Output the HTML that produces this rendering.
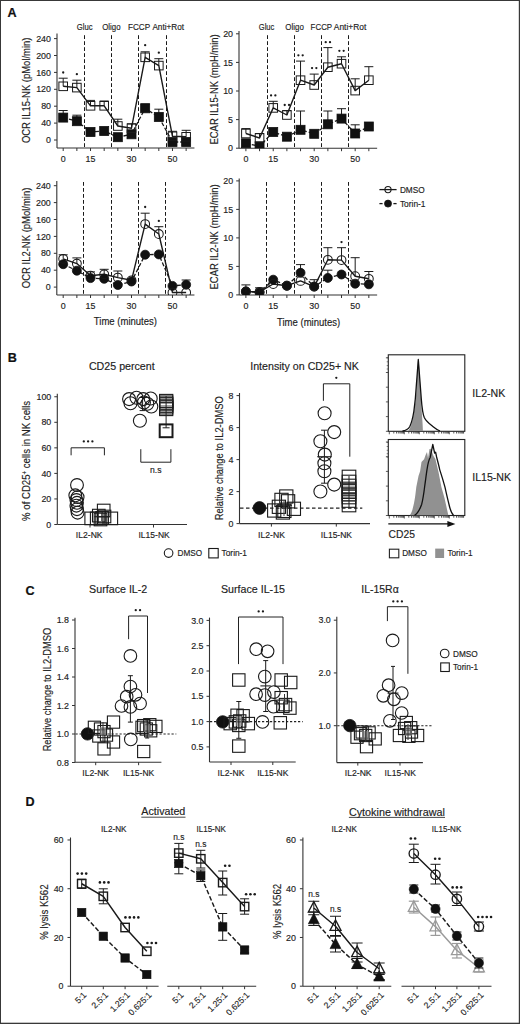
<!DOCTYPE html><html><head><meta charset="utf-8"><title>Figure</title><style>html,body{margin:0;padding:0;background:#fff;}svg{display:block;}text{font-family:"Liberation Sans", sans-serif;}</style></head><body>
<svg width="520" height="1024" viewBox="0 0 520 1024">
<rect x="0" y="0" width="520" height="1024" fill="#fff"/>
<text x="0" y="0" transform="translate(7.6 17.2)" font-size="12.6" text-anchor="start" font-weight="bold" fill="#111" stroke="#111" stroke-width="0.2">A</text>
<line x1="57" y1="33.5" x2="57" y2="148" stroke="#333" stroke-width="1.1" stroke-linecap="butt"/>
<line x1="54" y1="140" x2="57" y2="140" stroke="#333" stroke-width="1" stroke-linecap="butt"/>
<text x="0" y="0" transform="translate(51 143.19)" font-size="8.9" text-anchor="end" font-weight="normal" fill="#222" stroke="#222" stroke-width="0.15">0</text>
<line x1="54" y1="123.1" x2="57" y2="123.1" stroke="#333" stroke-width="1" stroke-linecap="butt"/>
<text x="0" y="0" transform="translate(51 126.29)" font-size="8.9" text-anchor="end" font-weight="normal" fill="#222" stroke="#222" stroke-width="0.15">40</text>
<line x1="54" y1="106.2" x2="57" y2="106.2" stroke="#333" stroke-width="1" stroke-linecap="butt"/>
<text x="0" y="0" transform="translate(51 109.39)" font-size="8.9" text-anchor="end" font-weight="normal" fill="#222" stroke="#222" stroke-width="0.15">80</text>
<line x1="54" y1="89.3" x2="57" y2="89.3" stroke="#333" stroke-width="1" stroke-linecap="butt"/>
<text x="0" y="0" transform="translate(51 92.49)" font-size="8.9" text-anchor="end" font-weight="normal" fill="#222" stroke="#222" stroke-width="0.15">120</text>
<line x1="54" y1="72.4" x2="57" y2="72.4" stroke="#333" stroke-width="1" stroke-linecap="butt"/>
<text x="0" y="0" transform="translate(51 75.59)" font-size="8.9" text-anchor="end" font-weight="normal" fill="#222" stroke="#222" stroke-width="0.15">160</text>
<line x1="54" y1="55.5" x2="57" y2="55.5" stroke="#333" stroke-width="1" stroke-linecap="butt"/>
<text x="0" y="0" transform="translate(51 58.69)" font-size="8.9" text-anchor="end" font-weight="normal" fill="#222" stroke="#222" stroke-width="0.15">200</text>
<line x1="54" y1="38.6" x2="57" y2="38.6" stroke="#333" stroke-width="1" stroke-linecap="butt"/>
<text x="0" y="0" transform="translate(51 41.79)" font-size="8.9" text-anchor="end" font-weight="normal" fill="#222" stroke="#222" stroke-width="0.15">240</text>
<line x1="57" y1="148" x2="194.44" y2="148" stroke="#333" stroke-width="1.1" stroke-linecap="butt"/>
<line x1="63.2" y1="148" x2="63.2" y2="151" stroke="#333" stroke-width="1" stroke-linecap="butt"/>
<line x1="76.86" y1="148" x2="76.86" y2="151" stroke="#333" stroke-width="1" stroke-linecap="butt"/>
<line x1="90.52" y1="148" x2="90.52" y2="151" stroke="#333" stroke-width="1" stroke-linecap="butt"/>
<line x1="104.18" y1="148" x2="104.18" y2="151" stroke="#333" stroke-width="1" stroke-linecap="butt"/>
<line x1="117.84" y1="148" x2="117.84" y2="151" stroke="#333" stroke-width="1" stroke-linecap="butt"/>
<line x1="131.5" y1="148" x2="131.5" y2="151" stroke="#333" stroke-width="1" stroke-linecap="butt"/>
<line x1="145.16" y1="148" x2="145.16" y2="151" stroke="#333" stroke-width="1" stroke-linecap="butt"/>
<line x1="158.82" y1="148" x2="158.82" y2="151" stroke="#333" stroke-width="1" stroke-linecap="butt"/>
<line x1="172.48" y1="148" x2="172.48" y2="151" stroke="#333" stroke-width="1" stroke-linecap="butt"/>
<line x1="186.14" y1="148" x2="186.14" y2="151" stroke="#333" stroke-width="1" stroke-linecap="butt"/>
<text x="0" y="0" transform="translate(63.2 161.8)" font-size="8.9" text-anchor="middle" font-weight="normal" fill="#222" stroke="#222" stroke-width="0.15">0</text>
<text x="0" y="0" transform="translate(90.52 161.8)" font-size="8.9" text-anchor="middle" font-weight="normal" fill="#222" stroke="#222" stroke-width="0.15">15</text>
<text x="0" y="0" transform="translate(131.5 161.8)" font-size="8.9" text-anchor="middle" font-weight="normal" fill="#222" stroke="#222" stroke-width="0.15">30</text>
<text x="0" y="0" transform="translate(172.48 161.8)" font-size="8.9" text-anchor="middle" font-weight="normal" fill="#222" stroke="#222" stroke-width="0.15">50</text>
<line x1="84.5" y1="35.2" x2="84.5" y2="148" stroke="#1a1a1a" stroke-width="1" stroke-dasharray="3.8,2.2" stroke-linecap="butt"/>
<line x1="111.5" y1="35.2" x2="111.5" y2="148" stroke="#1a1a1a" stroke-width="1" stroke-dasharray="3.8,2.2" stroke-linecap="butt"/>
<line x1="138.5" y1="35.2" x2="138.5" y2="148" stroke="#1a1a1a" stroke-width="1" stroke-dasharray="3.8,2.2" stroke-linecap="butt"/>
<line x1="166.5" y1="35.2" x2="166.5" y2="148" stroke="#1a1a1a" stroke-width="1" stroke-dasharray="3.8,2.2" stroke-linecap="butt"/>
<text x="0" y="0" transform="translate(76.8 30.3)" font-size="8.8" text-anchor="start" font-weight="normal" fill="#222" stroke="#222" stroke-width="0.15" textLength="15.7" lengthAdjust="spacingAndGlyphs">Gluc</text>
<text x="0" y="0" transform="translate(102.2 30.3)" font-size="8.8" text-anchor="start" font-weight="normal" fill="#222" stroke="#222" stroke-width="0.15" textLength="18.3" lengthAdjust="spacingAndGlyphs">Oligo</text>
<text x="0" y="0" transform="translate(128 30.3)" font-size="8.8" text-anchor="start" font-weight="normal" fill="#222" stroke="#222" stroke-width="0.15" textLength="22.2" lengthAdjust="spacingAndGlyphs">FCCP</text>
<text x="0" y="0" transform="translate(152.4 30.3)" font-size="8.8" text-anchor="start" font-weight="normal" fill="#222" stroke="#222" stroke-width="0.15" textLength="31.6" lengthAdjust="spacingAndGlyphs">Anti+Rot</text>
<text x="0" y="0" transform="translate(30.2 90.3) rotate(-90)" font-size="10.2" text-anchor="middle" font-weight="normal" fill="#222" stroke="#222" stroke-width="0.15" textLength="105.6" lengthAdjust="spacingAndGlyphs">OCR IL15-NK (pMol/min)</text>
<line x1="239" y1="31" x2="239" y2="148.2" stroke="#333" stroke-width="1.1" stroke-linecap="butt"/>
<line x1="236" y1="148.2" x2="239" y2="148.2" stroke="#333" stroke-width="1" stroke-linecap="butt"/>
<text x="0" y="0" transform="translate(233 151.39)" font-size="8.9" text-anchor="end" font-weight="normal" fill="#222" stroke="#222" stroke-width="0.15">0</text>
<line x1="236" y1="119.6" x2="239" y2="119.6" stroke="#333" stroke-width="1" stroke-linecap="butt"/>
<text x="0" y="0" transform="translate(233 122.79)" font-size="8.9" text-anchor="end" font-weight="normal" fill="#222" stroke="#222" stroke-width="0.15">5</text>
<line x1="236" y1="91" x2="239" y2="91" stroke="#333" stroke-width="1" stroke-linecap="butt"/>
<text x="0" y="0" transform="translate(233 94.19)" font-size="8.9" text-anchor="end" font-weight="normal" fill="#222" stroke="#222" stroke-width="0.15">10</text>
<line x1="236" y1="62.4" x2="239" y2="62.4" stroke="#333" stroke-width="1" stroke-linecap="butt"/>
<text x="0" y="0" transform="translate(233 65.59)" font-size="8.9" text-anchor="end" font-weight="normal" fill="#222" stroke="#222" stroke-width="0.15">15</text>
<line x1="236" y1="33.8" x2="239" y2="33.8" stroke="#333" stroke-width="1" stroke-linecap="butt"/>
<text x="0" y="0" transform="translate(233 36.99)" font-size="8.9" text-anchor="end" font-weight="normal" fill="#222" stroke="#222" stroke-width="0.15">20</text>
<line x1="239" y1="148.2" x2="377.14" y2="148.2" stroke="#333" stroke-width="1.1" stroke-linecap="butt"/>
<line x1="245.9" y1="148.2" x2="245.9" y2="151.2" stroke="#333" stroke-width="1" stroke-linecap="butt"/>
<line x1="259.56" y1="148.2" x2="259.56" y2="151.2" stroke="#333" stroke-width="1" stroke-linecap="butt"/>
<line x1="273.22" y1="148.2" x2="273.22" y2="151.2" stroke="#333" stroke-width="1" stroke-linecap="butt"/>
<line x1="286.88" y1="148.2" x2="286.88" y2="151.2" stroke="#333" stroke-width="1" stroke-linecap="butt"/>
<line x1="300.54" y1="148.2" x2="300.54" y2="151.2" stroke="#333" stroke-width="1" stroke-linecap="butt"/>
<line x1="314.2" y1="148.2" x2="314.2" y2="151.2" stroke="#333" stroke-width="1" stroke-linecap="butt"/>
<line x1="327.86" y1="148.2" x2="327.86" y2="151.2" stroke="#333" stroke-width="1" stroke-linecap="butt"/>
<line x1="341.52" y1="148.2" x2="341.52" y2="151.2" stroke="#333" stroke-width="1" stroke-linecap="butt"/>
<line x1="355.18" y1="148.2" x2="355.18" y2="151.2" stroke="#333" stroke-width="1" stroke-linecap="butt"/>
<line x1="368.84" y1="148.2" x2="368.84" y2="151.2" stroke="#333" stroke-width="1" stroke-linecap="butt"/>
<text x="0" y="0" transform="translate(245.9 161.8)" font-size="8.9" text-anchor="middle" font-weight="normal" fill="#222" stroke="#222" stroke-width="0.15">0</text>
<text x="0" y="0" transform="translate(273.22 161.8)" font-size="8.9" text-anchor="middle" font-weight="normal" fill="#222" stroke="#222" stroke-width="0.15">15</text>
<text x="0" y="0" transform="translate(314.2 161.8)" font-size="8.9" text-anchor="middle" font-weight="normal" fill="#222" stroke="#222" stroke-width="0.15">30</text>
<text x="0" y="0" transform="translate(355.18 161.8)" font-size="8.9" text-anchor="middle" font-weight="normal" fill="#222" stroke="#222" stroke-width="0.15">50</text>
<line x1="267.5" y1="35.2" x2="267.5" y2="148.2" stroke="#1a1a1a" stroke-width="1" stroke-dasharray="3.8,2.2" stroke-linecap="butt"/>
<line x1="294.5" y1="35.2" x2="294.5" y2="148.2" stroke="#1a1a1a" stroke-width="1" stroke-dasharray="3.8,2.2" stroke-linecap="butt"/>
<line x1="321.5" y1="35.2" x2="321.5" y2="148.2" stroke="#1a1a1a" stroke-width="1" stroke-dasharray="3.8,2.2" stroke-linecap="butt"/>
<line x1="348.5" y1="35.2" x2="348.5" y2="148.2" stroke="#1a1a1a" stroke-width="1" stroke-dasharray="3.8,2.2" stroke-linecap="butt"/>
<text x="0" y="0" transform="translate(258.8 30.3)" font-size="8.8" text-anchor="start" font-weight="normal" fill="#222" stroke="#222" stroke-width="0.15" textLength="15.5" lengthAdjust="spacingAndGlyphs">Gluc</text>
<text x="0" y="0" transform="translate(285.3 30.3)" font-size="8.8" text-anchor="start" font-weight="normal" fill="#222" stroke="#222" stroke-width="0.15" textLength="18.5" lengthAdjust="spacingAndGlyphs">Oligo</text>
<text x="0" y="0" transform="translate(310.6 30.3)" font-size="8.8" text-anchor="start" font-weight="normal" fill="#222" stroke="#222" stroke-width="0.15" textLength="21.5" lengthAdjust="spacingAndGlyphs">FCCP</text>
<text x="0" y="0" transform="translate(333.8 30.3)" font-size="8.8" text-anchor="start" font-weight="normal" fill="#222" stroke="#222" stroke-width="0.15" textLength="32.5" lengthAdjust="spacingAndGlyphs">Anti+Rot</text>
<text x="0" y="0" transform="translate(218.3 89.4) rotate(-90)" font-size="10.2" text-anchor="middle" font-weight="normal" fill="#222" stroke="#222" stroke-width="0.15" textLength="110.2" lengthAdjust="spacingAndGlyphs">ECAR IL15-NK (mpH/min)</text>
<line x1="56.8" y1="181" x2="56.8" y2="295" stroke="#333" stroke-width="1.1" stroke-linecap="butt"/>
<line x1="53.8" y1="287.1" x2="56.8" y2="287.1" stroke="#333" stroke-width="1" stroke-linecap="butt"/>
<text x="0" y="0" transform="translate(50.8 290.29)" font-size="8.9" text-anchor="end" font-weight="normal" fill="#222" stroke="#222" stroke-width="0.15">0</text>
<line x1="53.8" y1="270.2" x2="56.8" y2="270.2" stroke="#333" stroke-width="1" stroke-linecap="butt"/>
<text x="0" y="0" transform="translate(50.8 273.39)" font-size="8.9" text-anchor="end" font-weight="normal" fill="#222" stroke="#222" stroke-width="0.15">40</text>
<line x1="53.8" y1="253.3" x2="56.8" y2="253.3" stroke="#333" stroke-width="1" stroke-linecap="butt"/>
<text x="0" y="0" transform="translate(50.8 256.49)" font-size="8.9" text-anchor="end" font-weight="normal" fill="#222" stroke="#222" stroke-width="0.15">80</text>
<line x1="53.8" y1="236.4" x2="56.8" y2="236.4" stroke="#333" stroke-width="1" stroke-linecap="butt"/>
<text x="0" y="0" transform="translate(50.8 239.59)" font-size="8.9" text-anchor="end" font-weight="normal" fill="#222" stroke="#222" stroke-width="0.15">120</text>
<line x1="53.8" y1="219.5" x2="56.8" y2="219.5" stroke="#333" stroke-width="1" stroke-linecap="butt"/>
<text x="0" y="0" transform="translate(50.8 222.69)" font-size="8.9" text-anchor="end" font-weight="normal" fill="#222" stroke="#222" stroke-width="0.15">160</text>
<line x1="53.8" y1="202.6" x2="56.8" y2="202.6" stroke="#333" stroke-width="1" stroke-linecap="butt"/>
<text x="0" y="0" transform="translate(50.8 205.79)" font-size="8.9" text-anchor="end" font-weight="normal" fill="#222" stroke="#222" stroke-width="0.15">200</text>
<line x1="53.8" y1="185.7" x2="56.8" y2="185.7" stroke="#333" stroke-width="1" stroke-linecap="butt"/>
<text x="0" y="0" transform="translate(50.8 188.89)" font-size="8.9" text-anchor="end" font-weight="normal" fill="#222" stroke="#222" stroke-width="0.15">240</text>
<line x1="56.8" y1="295" x2="194.44" y2="295" stroke="#333" stroke-width="1.1" stroke-linecap="butt"/>
<line x1="63.2" y1="295" x2="63.2" y2="298" stroke="#333" stroke-width="1" stroke-linecap="butt"/>
<line x1="76.86" y1="295" x2="76.86" y2="298" stroke="#333" stroke-width="1" stroke-linecap="butt"/>
<line x1="90.52" y1="295" x2="90.52" y2="298" stroke="#333" stroke-width="1" stroke-linecap="butt"/>
<line x1="104.18" y1="295" x2="104.18" y2="298" stroke="#333" stroke-width="1" stroke-linecap="butt"/>
<line x1="117.84" y1="295" x2="117.84" y2="298" stroke="#333" stroke-width="1" stroke-linecap="butt"/>
<line x1="131.5" y1="295" x2="131.5" y2="298" stroke="#333" stroke-width="1" stroke-linecap="butt"/>
<line x1="145.16" y1="295" x2="145.16" y2="298" stroke="#333" stroke-width="1" stroke-linecap="butt"/>
<line x1="158.82" y1="295" x2="158.82" y2="298" stroke="#333" stroke-width="1" stroke-linecap="butt"/>
<line x1="172.48" y1="295" x2="172.48" y2="298" stroke="#333" stroke-width="1" stroke-linecap="butt"/>
<line x1="186.14" y1="295" x2="186.14" y2="298" stroke="#333" stroke-width="1" stroke-linecap="butt"/>
<text x="0" y="0" transform="translate(63.2 309)" font-size="8.9" text-anchor="middle" font-weight="normal" fill="#222" stroke="#222" stroke-width="0.15">0</text>
<text x="0" y="0" transform="translate(90.52 309)" font-size="8.9" text-anchor="middle" font-weight="normal" fill="#222" stroke="#222" stroke-width="0.15">15</text>
<text x="0" y="0" transform="translate(131.5 309)" font-size="8.9" text-anchor="middle" font-weight="normal" fill="#222" stroke="#222" stroke-width="0.15">30</text>
<text x="0" y="0" transform="translate(172.48 309)" font-size="8.9" text-anchor="middle" font-weight="normal" fill="#222" stroke="#222" stroke-width="0.15">50</text>
<line x1="83.5" y1="182" x2="83.5" y2="295" stroke="#1a1a1a" stroke-width="1" stroke-dasharray="3.8,2.2" stroke-linecap="butt"/>
<line x1="111.5" y1="182" x2="111.5" y2="295" stroke="#1a1a1a" stroke-width="1" stroke-dasharray="3.8,2.2" stroke-linecap="butt"/>
<line x1="138.5" y1="182" x2="138.5" y2="295" stroke="#1a1a1a" stroke-width="1" stroke-dasharray="3.8,2.2" stroke-linecap="butt"/>
<line x1="165.5" y1="182" x2="165.5" y2="295" stroke="#1a1a1a" stroke-width="1" stroke-dasharray="3.8,2.2" stroke-linecap="butt"/>
<text x="0" y="0" transform="translate(30.2 237.9) rotate(-90)" font-size="10.2" text-anchor="middle" font-weight="normal" fill="#222" stroke="#222" stroke-width="0.15" textLength="100.6" lengthAdjust="spacingAndGlyphs">OCR IL2-NK (pMol/min)</text>
<text x="0" y="0" transform="translate(125.4 325.1)" font-size="10" text-anchor="middle" font-weight="normal" fill="#222" stroke="#222" stroke-width="0.15" textLength="63.2" lengthAdjust="spacingAndGlyphs">Time (minutes)</text>
<line x1="239.2" y1="178.5" x2="239.2" y2="295" stroke="#333" stroke-width="1.1" stroke-linecap="butt"/>
<line x1="236.2" y1="294.9" x2="239.2" y2="294.9" stroke="#333" stroke-width="1" stroke-linecap="butt"/>
<text x="0" y="0" transform="translate(233.2 298.09)" font-size="8.9" text-anchor="end" font-weight="normal" fill="#222" stroke="#222" stroke-width="0.15">0</text>
<line x1="236.2" y1="266.4" x2="239.2" y2="266.4" stroke="#333" stroke-width="1" stroke-linecap="butt"/>
<text x="0" y="0" transform="translate(233.2 269.59)" font-size="8.9" text-anchor="end" font-weight="normal" fill="#222" stroke="#222" stroke-width="0.15">5</text>
<line x1="236.2" y1="237.9" x2="239.2" y2="237.9" stroke="#333" stroke-width="1" stroke-linecap="butt"/>
<text x="0" y="0" transform="translate(233.2 241.09)" font-size="8.9" text-anchor="end" font-weight="normal" fill="#222" stroke="#222" stroke-width="0.15">10</text>
<line x1="236.2" y1="209.4" x2="239.2" y2="209.4" stroke="#333" stroke-width="1" stroke-linecap="butt"/>
<text x="0" y="0" transform="translate(233.2 212.59)" font-size="8.9" text-anchor="end" font-weight="normal" fill="#222" stroke="#222" stroke-width="0.15">15</text>
<line x1="236.2" y1="180.9" x2="239.2" y2="180.9" stroke="#333" stroke-width="1" stroke-linecap="butt"/>
<text x="0" y="0" transform="translate(233.2 184.09)" font-size="8.9" text-anchor="end" font-weight="normal" fill="#222" stroke="#222" stroke-width="0.15">20</text>
<line x1="239.2" y1="295" x2="377.14" y2="295" stroke="#333" stroke-width="1.1" stroke-linecap="butt"/>
<line x1="245.9" y1="295" x2="245.9" y2="298" stroke="#333" stroke-width="1" stroke-linecap="butt"/>
<line x1="259.56" y1="295" x2="259.56" y2="298" stroke="#333" stroke-width="1" stroke-linecap="butt"/>
<line x1="273.22" y1="295" x2="273.22" y2="298" stroke="#333" stroke-width="1" stroke-linecap="butt"/>
<line x1="286.88" y1="295" x2="286.88" y2="298" stroke="#333" stroke-width="1" stroke-linecap="butt"/>
<line x1="300.54" y1="295" x2="300.54" y2="298" stroke="#333" stroke-width="1" stroke-linecap="butt"/>
<line x1="314.2" y1="295" x2="314.2" y2="298" stroke="#333" stroke-width="1" stroke-linecap="butt"/>
<line x1="327.86" y1="295" x2="327.86" y2="298" stroke="#333" stroke-width="1" stroke-linecap="butt"/>
<line x1="341.52" y1="295" x2="341.52" y2="298" stroke="#333" stroke-width="1" stroke-linecap="butt"/>
<line x1="355.18" y1="295" x2="355.18" y2="298" stroke="#333" stroke-width="1" stroke-linecap="butt"/>
<line x1="368.84" y1="295" x2="368.84" y2="298" stroke="#333" stroke-width="1" stroke-linecap="butt"/>
<text x="0" y="0" transform="translate(245.9 309)" font-size="8.9" text-anchor="middle" font-weight="normal" fill="#222" stroke="#222" stroke-width="0.15">0</text>
<text x="0" y="0" transform="translate(273.22 309)" font-size="8.9" text-anchor="middle" font-weight="normal" fill="#222" stroke="#222" stroke-width="0.15">15</text>
<text x="0" y="0" transform="translate(314.2 309)" font-size="8.9" text-anchor="middle" font-weight="normal" fill="#222" stroke="#222" stroke-width="0.15">30</text>
<text x="0" y="0" transform="translate(355.18 309)" font-size="8.9" text-anchor="middle" font-weight="normal" fill="#222" stroke="#222" stroke-width="0.15">50</text>
<line x1="266.5" y1="182" x2="266.5" y2="295" stroke="#1a1a1a" stroke-width="1" stroke-dasharray="3.8,2.2" stroke-linecap="butt"/>
<line x1="294.5" y1="182" x2="294.5" y2="295" stroke="#1a1a1a" stroke-width="1" stroke-dasharray="3.8,2.2" stroke-linecap="butt"/>
<line x1="321.5" y1="182" x2="321.5" y2="295" stroke="#1a1a1a" stroke-width="1" stroke-dasharray="3.8,2.2" stroke-linecap="butt"/>
<line x1="348.5" y1="182" x2="348.5" y2="295" stroke="#1a1a1a" stroke-width="1" stroke-dasharray="3.8,2.2" stroke-linecap="butt"/>
<text x="0" y="0" transform="translate(218.3 236.9) rotate(-90)" font-size="10.2" text-anchor="middle" font-weight="normal" fill="#222" stroke="#222" stroke-width="0.15" textLength="105.2" lengthAdjust="spacingAndGlyphs">ECAR IL2-NK (mpH/min)</text>
<text x="0" y="0" transform="translate(308.6 326.1)" font-size="10" text-anchor="middle" font-weight="normal" fill="#222" stroke="#222" stroke-width="0.15" textLength="63.2" lengthAdjust="spacingAndGlyphs">Time (minutes)</text>
<clipPath id="c1"><rect x="57.5" y="20" width="142.5" height="128"/></clipPath>
<g clip-path="url(#c1)">
<polyline points="63.2,117.6 76.86,121.2 90.52,132 104.18,131 117.84,137.2 131.5,134.3 145.16,108.3 158.82,117 172.48,142 186.14,142" fill="none" stroke="#1a1a1a" stroke-width="1.3" stroke-dasharray="4,2" stroke-linejoin="round"/>
<polyline points="63.2,86.3 76.86,87.6 90.52,105.8 104.18,105.8 117.84,126 131.5,128.2 145.16,57.3 158.82,65.6 172.48,136.3 186.14,136.8" fill="none" stroke="#1a1a1a" stroke-width="1.4" stroke-linejoin="round"/>
<line x1="63.2" y1="110.5" x2="63.2" y2="117.6" stroke="#1a1a1a" stroke-width="1" stroke-linecap="butt"/>
<line x1="58.7" y1="110.5" x2="67.7" y2="110.5" stroke="#1a1a1a" stroke-width="1" stroke-linecap="butt"/>
<line x1="76.86" y1="115.2" x2="76.86" y2="121.2" stroke="#1a1a1a" stroke-width="1" stroke-linecap="butt"/>
<line x1="72.36" y1="115.2" x2="81.36" y2="115.2" stroke="#1a1a1a" stroke-width="1" stroke-linecap="butt"/>
<line x1="145.16" y1="104" x2="145.16" y2="108.3" stroke="#1a1a1a" stroke-width="1" stroke-linecap="butt"/>
<line x1="140.66" y1="104" x2="149.66" y2="104" stroke="#1a1a1a" stroke-width="1" stroke-linecap="butt"/>
<line x1="158.82" y1="109.2" x2="158.82" y2="117" stroke="#1a1a1a" stroke-width="1" stroke-linecap="butt"/>
<line x1="154.32" y1="109.2" x2="163.32" y2="109.2" stroke="#1a1a1a" stroke-width="1" stroke-linecap="butt"/>
<rect x="58.7" y="113.1" width="9" height="9" fill="#111" stroke="#111" stroke-width="0.8"/>
<rect x="72.36" y="116.7" width="9" height="9" fill="#111" stroke="#111" stroke-width="0.8"/>
<rect x="86.02" y="127.5" width="9" height="9" fill="#111" stroke="#111" stroke-width="0.8"/>
<rect x="99.68" y="126.5" width="9" height="9" fill="#111" stroke="#111" stroke-width="0.8"/>
<rect x="113.34" y="132.7" width="9" height="9" fill="#111" stroke="#111" stroke-width="0.8"/>
<rect x="127" y="129.8" width="9" height="9" fill="#111" stroke="#111" stroke-width="0.8"/>
<rect x="140.66" y="103.8" width="9" height="9" fill="#111" stroke="#111" stroke-width="0.8"/>
<rect x="154.32" y="112.5" width="9" height="9" fill="#111" stroke="#111" stroke-width="0.8"/>
<rect x="167.98" y="137.5" width="9" height="9" fill="#111" stroke="#111" stroke-width="0.8"/>
<rect x="181.64" y="137.5" width="9" height="9" fill="#111" stroke="#111" stroke-width="0.8"/>
<line x1="63.2" y1="78.2" x2="63.2" y2="86.3" stroke="#1a1a1a" stroke-width="1" stroke-linecap="butt"/>
<line x1="58.7" y1="78.2" x2="67.7" y2="78.2" stroke="#1a1a1a" stroke-width="1" stroke-linecap="butt"/>
<line x1="76.86" y1="80.2" x2="76.86" y2="87.6" stroke="#1a1a1a" stroke-width="1" stroke-linecap="butt"/>
<line x1="72.36" y1="80.2" x2="81.36" y2="80.2" stroke="#1a1a1a" stroke-width="1" stroke-linecap="butt"/>
<line x1="90.52" y1="100.4" x2="90.52" y2="105.8" stroke="#1a1a1a" stroke-width="1" stroke-linecap="butt"/>
<line x1="86.02" y1="100.4" x2="95.02" y2="100.4" stroke="#1a1a1a" stroke-width="1" stroke-linecap="butt"/>
<line x1="104.18" y1="101" x2="104.18" y2="105.8" stroke="#1a1a1a" stroke-width="1" stroke-linecap="butt"/>
<line x1="99.68" y1="101" x2="108.68" y2="101" stroke="#1a1a1a" stroke-width="1" stroke-linecap="butt"/>
<line x1="117.84" y1="119.2" x2="117.84" y2="126" stroke="#1a1a1a" stroke-width="1" stroke-linecap="butt"/>
<line x1="113.34" y1="119.2" x2="122.34" y2="119.2" stroke="#1a1a1a" stroke-width="1" stroke-linecap="butt"/>
<line x1="131.5" y1="123.9" x2="131.5" y2="128.2" stroke="#1a1a1a" stroke-width="1" stroke-linecap="butt"/>
<line x1="127" y1="123.9" x2="136" y2="123.9" stroke="#1a1a1a" stroke-width="1" stroke-linecap="butt"/>
<line x1="145.16" y1="51.8" x2="145.16" y2="57.3" stroke="#1a1a1a" stroke-width="1" stroke-linecap="butt"/>
<line x1="140.66" y1="51.8" x2="149.66" y2="51.8" stroke="#1a1a1a" stroke-width="1" stroke-linecap="butt"/>
<line x1="158.82" y1="58.7" x2="158.82" y2="65.6" stroke="#1a1a1a" stroke-width="1" stroke-linecap="butt"/>
<line x1="154.32" y1="58.7" x2="163.32" y2="58.7" stroke="#1a1a1a" stroke-width="1" stroke-linecap="butt"/>
<line x1="172.48" y1="131.3" x2="172.48" y2="136.3" stroke="#1a1a1a" stroke-width="1" stroke-linecap="butt"/>
<line x1="167.98" y1="131.3" x2="176.98" y2="131.3" stroke="#1a1a1a" stroke-width="1" stroke-linecap="butt"/>
<line x1="186.14" y1="130.3" x2="186.14" y2="136.8" stroke="#1a1a1a" stroke-width="1" stroke-linecap="butt"/>
<line x1="181.64" y1="130.3" x2="190.64" y2="130.3" stroke="#1a1a1a" stroke-width="1" stroke-linecap="butt"/>
<rect x="58.9" y="82" width="8.6" height="8.6" fill="none" stroke="#1a1a1a" stroke-width="1"/>
<rect x="72.56" y="83.3" width="8.6" height="8.6" fill="none" stroke="#1a1a1a" stroke-width="1"/>
<rect x="86.22" y="101.5" width="8.6" height="8.6" fill="none" stroke="#1a1a1a" stroke-width="1"/>
<rect x="99.88" y="101.5" width="8.6" height="8.6" fill="none" stroke="#1a1a1a" stroke-width="1"/>
<rect x="113.54" y="121.7" width="8.6" height="8.6" fill="none" stroke="#1a1a1a" stroke-width="1"/>
<rect x="127.2" y="123.9" width="8.6" height="8.6" fill="none" stroke="#1a1a1a" stroke-width="1"/>
<rect x="140.86" y="53" width="8.6" height="8.6" fill="none" stroke="#1a1a1a" stroke-width="1"/>
<rect x="154.52" y="61.3" width="8.6" height="8.6" fill="none" stroke="#1a1a1a" stroke-width="1"/>
<rect x="168.18" y="132" width="8.6" height="8.6" fill="none" stroke="#1a1a1a" stroke-width="1"/>
<rect x="181.84" y="132.5" width="8.6" height="8.6" fill="none" stroke="#1a1a1a" stroke-width="1"/>
</g>
<circle cx="63.2" cy="72.5" r="1.15" fill="#1a1a1a"/>
<circle cx="76.86" cy="74.2" r="1.15" fill="#1a1a1a"/>
<circle cx="145.16" cy="45.2" r="1.15" fill="#1a1a1a"/>
<circle cx="158.82" cy="52.7" r="1.15" fill="#1a1a1a"/>
<clipPath id="c2"><rect x="239.5" y="20" width="150.5" height="128.2"/></clipPath>
<g clip-path="url(#c2)">
<polyline points="245.9,143.3 259.56,146.3 273.22,132 286.88,136.7 300.54,129.8 314.2,133.8 327.86,124.3 341.52,118.6 355.18,133.5 368.84,126.5" fill="none" stroke="#1a1a1a" stroke-width="1.3" stroke-dasharray="4,2" stroke-linejoin="round"/>
<polyline points="245.9,133.5 259.56,138 273.22,107.9 286.88,115 300.54,80.2 314.2,85 327.86,67.2 341.52,63.7 355.18,90.6 368.84,80.2" fill="none" stroke="#1a1a1a" stroke-width="1.4" stroke-linejoin="round"/>
<line x1="300.54" y1="111" x2="300.54" y2="129.8" stroke="#1a1a1a" stroke-width="1" stroke-linecap="butt"/>
<line x1="296.04" y1="111" x2="305.04" y2="111" stroke="#1a1a1a" stroke-width="1" stroke-linecap="butt"/>
<line x1="327.86" y1="111" x2="327.86" y2="124.3" stroke="#1a1a1a" stroke-width="1" stroke-linecap="butt"/>
<line x1="323.36" y1="111" x2="332.36" y2="111" stroke="#1a1a1a" stroke-width="1" stroke-linecap="butt"/>
<line x1="341.52" y1="108.7" x2="341.52" y2="118.6" stroke="#1a1a1a" stroke-width="1" stroke-linecap="butt"/>
<line x1="337.02" y1="108.7" x2="346.02" y2="108.7" stroke="#1a1a1a" stroke-width="1" stroke-linecap="butt"/>
<line x1="355.18" y1="124.8" x2="355.18" y2="133.5" stroke="#1a1a1a" stroke-width="1" stroke-linecap="butt"/>
<line x1="350.68" y1="124.8" x2="359.68" y2="124.8" stroke="#1a1a1a" stroke-width="1" stroke-linecap="butt"/>
<rect x="241.4" y="138.8" width="9" height="9" fill="#111" stroke="#111" stroke-width="0.8"/>
<rect x="255.06" y="141.8" width="9" height="9" fill="#111" stroke="#111" stroke-width="0.8"/>
<rect x="268.72" y="127.5" width="9" height="9" fill="#111" stroke="#111" stroke-width="0.8"/>
<rect x="282.38" y="132.2" width="9" height="9" fill="#111" stroke="#111" stroke-width="0.8"/>
<rect x="296.04" y="125.3" width="9" height="9" fill="#111" stroke="#111" stroke-width="0.8"/>
<rect x="309.7" y="129.3" width="9" height="9" fill="#111" stroke="#111" stroke-width="0.8"/>
<rect x="323.36" y="119.8" width="9" height="9" fill="#111" stroke="#111" stroke-width="0.8"/>
<rect x="337.02" y="114.1" width="9" height="9" fill="#111" stroke="#111" stroke-width="0.8"/>
<rect x="350.68" y="129" width="9" height="9" fill="#111" stroke="#111" stroke-width="0.8"/>
<rect x="364.34" y="122" width="9" height="9" fill="#111" stroke="#111" stroke-width="0.8"/>
<line x1="245.9" y1="128.6" x2="245.9" y2="133.5" stroke="#1a1a1a" stroke-width="1" stroke-linecap="butt"/>
<line x1="241.4" y1="128.6" x2="250.4" y2="128.6" stroke="#1a1a1a" stroke-width="1" stroke-linecap="butt"/>
<line x1="259.56" y1="133.5" x2="259.56" y2="138" stroke="#1a1a1a" stroke-width="1" stroke-linecap="butt"/>
<line x1="255.06" y1="133.5" x2="264.06" y2="133.5" stroke="#1a1a1a" stroke-width="1" stroke-linecap="butt"/>
<line x1="273.22" y1="101.3" x2="273.22" y2="107.9" stroke="#1a1a1a" stroke-width="1" stroke-linecap="butt"/>
<line x1="268.72" y1="101.3" x2="277.72" y2="101.3" stroke="#1a1a1a" stroke-width="1" stroke-linecap="butt"/>
<line x1="286.88" y1="110.6" x2="286.88" y2="115" stroke="#1a1a1a" stroke-width="1" stroke-linecap="butt"/>
<line x1="282.38" y1="110.6" x2="291.38" y2="110.6" stroke="#1a1a1a" stroke-width="1" stroke-linecap="butt"/>
<line x1="300.54" y1="61.1" x2="300.54" y2="80.2" stroke="#1a1a1a" stroke-width="1" stroke-linecap="butt"/>
<line x1="296.04" y1="61.1" x2="305.04" y2="61.1" stroke="#1a1a1a" stroke-width="1" stroke-linecap="butt"/>
<line x1="314.2" y1="74.1" x2="314.2" y2="85" stroke="#1a1a1a" stroke-width="1" stroke-linecap="butt"/>
<line x1="309.7" y1="74.1" x2="318.7" y2="74.1" stroke="#1a1a1a" stroke-width="1" stroke-linecap="butt"/>
<line x1="327.86" y1="47.6" x2="327.86" y2="67.2" stroke="#1a1a1a" stroke-width="1" stroke-linecap="butt"/>
<line x1="323.36" y1="47.6" x2="332.36" y2="47.6" stroke="#1a1a1a" stroke-width="1" stroke-linecap="butt"/>
<line x1="341.52" y1="56.8" x2="341.52" y2="63.7" stroke="#1a1a1a" stroke-width="1" stroke-linecap="butt"/>
<line x1="337.02" y1="56.8" x2="346.02" y2="56.8" stroke="#1a1a1a" stroke-width="1" stroke-linecap="butt"/>
<line x1="355.18" y1="78.8" x2="355.18" y2="90.6" stroke="#1a1a1a" stroke-width="1" stroke-linecap="butt"/>
<line x1="350.68" y1="78.8" x2="359.68" y2="78.8" stroke="#1a1a1a" stroke-width="1" stroke-linecap="butt"/>
<line x1="368.84" y1="66.7" x2="368.84" y2="80.2" stroke="#1a1a1a" stroke-width="1" stroke-linecap="butt"/>
<line x1="364.34" y1="66.7" x2="373.34" y2="66.7" stroke="#1a1a1a" stroke-width="1" stroke-linecap="butt"/>
<rect x="241.6" y="129.2" width="8.6" height="8.6" fill="none" stroke="#1a1a1a" stroke-width="1"/>
<rect x="255.26" y="133.7" width="8.6" height="8.6" fill="none" stroke="#1a1a1a" stroke-width="1"/>
<rect x="268.92" y="103.6" width="8.6" height="8.6" fill="none" stroke="#1a1a1a" stroke-width="1"/>
<rect x="282.58" y="110.7" width="8.6" height="8.6" fill="none" stroke="#1a1a1a" stroke-width="1"/>
<rect x="296.24" y="75.9" width="8.6" height="8.6" fill="none" stroke="#1a1a1a" stroke-width="1"/>
<rect x="309.9" y="80.7" width="8.6" height="8.6" fill="none" stroke="#1a1a1a" stroke-width="1"/>
<rect x="323.56" y="62.9" width="8.6" height="8.6" fill="none" stroke="#1a1a1a" stroke-width="1"/>
<rect x="337.22" y="59.4" width="8.6" height="8.6" fill="none" stroke="#1a1a1a" stroke-width="1"/>
<rect x="350.88" y="86.3" width="8.6" height="8.6" fill="none" stroke="#1a1a1a" stroke-width="1"/>
<rect x="364.54" y="75.9" width="8.6" height="8.6" fill="none" stroke="#1a1a1a" stroke-width="1"/>
</g>
<circle cx="271.07" cy="95.4" r="1.15" fill="#1a1a1a"/>
<circle cx="275.37" cy="95.4" r="1.15" fill="#1a1a1a"/>
<circle cx="284.73" cy="105" r="1.15" fill="#1a1a1a"/>
<circle cx="289.03" cy="105" r="1.15" fill="#1a1a1a"/>
<circle cx="298.39" cy="55.3" r="1.15" fill="#1a1a1a"/>
<circle cx="302.69" cy="55.3" r="1.15" fill="#1a1a1a"/>
<circle cx="312.05" cy="68.1" r="1.15" fill="#1a1a1a"/>
<circle cx="316.35" cy="68.1" r="1.15" fill="#1a1a1a"/>
<circle cx="325.71" cy="42.2" r="1.15" fill="#1a1a1a"/>
<circle cx="330.01" cy="42.2" r="1.15" fill="#1a1a1a"/>
<circle cx="339.37" cy="50.8" r="1.15" fill="#1a1a1a"/>
<circle cx="343.67" cy="50.8" r="1.15" fill="#1a1a1a"/>
<clipPath id="c3"><rect x="57.3" y="170" width="142.7" height="125"/></clipPath>
<g clip-path="url(#c3)">
<polyline points="63.2,264.2 76.86,270.7 90.52,278.1 104.18,278.8 117.84,285 131.5,281.5 145.16,254.7 158.82,254.4 172.48,285.9 186.14,284.7" fill="none" stroke="#1a1a1a" stroke-width="1.3" stroke-dasharray="4,2" stroke-linejoin="round"/>
<polyline points="63.2,258.8 76.86,263.6 90.52,275.7 104.18,274.3 117.84,277.6 131.5,280.3 145.16,224.1 158.82,234 172.48,292.5 186.14,292.5" fill="none" stroke="#1a1a1a" stroke-width="1.4" stroke-linejoin="round"/>
<line x1="186.14" y1="280" x2="186.14" y2="284.7" stroke="#1a1a1a" stroke-width="1" stroke-linecap="butt"/>
<line x1="181.64" y1="280" x2="190.64" y2="280" stroke="#1a1a1a" stroke-width="1" stroke-linecap="butt"/>
<circle cx="63.2" cy="264.2" r="4.5" fill="#111" stroke="#111" stroke-width="0.8"/>
<circle cx="76.86" cy="270.7" r="4.5" fill="#111" stroke="#111" stroke-width="0.8"/>
<circle cx="90.52" cy="278.1" r="4.5" fill="#111" stroke="#111" stroke-width="0.8"/>
<circle cx="104.18" cy="278.8" r="4.5" fill="#111" stroke="#111" stroke-width="0.8"/>
<circle cx="117.84" cy="285" r="4.5" fill="#111" stroke="#111" stroke-width="0.8"/>
<circle cx="131.5" cy="281.5" r="4.5" fill="#111" stroke="#111" stroke-width="0.8"/>
<circle cx="145.16" cy="254.7" r="4.5" fill="#111" stroke="#111" stroke-width="0.8"/>
<circle cx="158.82" cy="254.4" r="4.5" fill="#111" stroke="#111" stroke-width="0.8"/>
<circle cx="172.48" cy="285.9" r="4.5" fill="#111" stroke="#111" stroke-width="0.8"/>
<circle cx="186.14" cy="284.7" r="4.5" fill="#111" stroke="#111" stroke-width="0.8"/>
<line x1="63.2" y1="254.8" x2="63.2" y2="258.8" stroke="#1a1a1a" stroke-width="1" stroke-linecap="butt"/>
<line x1="58.7" y1="254.8" x2="67.7" y2="254.8" stroke="#1a1a1a" stroke-width="1" stroke-linecap="butt"/>
<line x1="76.86" y1="257.9" x2="76.86" y2="263.6" stroke="#1a1a1a" stroke-width="1" stroke-linecap="butt"/>
<line x1="72.36" y1="257.9" x2="81.36" y2="257.9" stroke="#1a1a1a" stroke-width="1" stroke-linecap="butt"/>
<line x1="90.52" y1="271.9" x2="90.52" y2="275.7" stroke="#1a1a1a" stroke-width="1" stroke-linecap="butt"/>
<line x1="86.02" y1="271.9" x2="95.02" y2="271.9" stroke="#1a1a1a" stroke-width="1" stroke-linecap="butt"/>
<line x1="104.18" y1="269.3" x2="104.18" y2="274.3" stroke="#1a1a1a" stroke-width="1" stroke-linecap="butt"/>
<line x1="99.68" y1="269.3" x2="108.68" y2="269.3" stroke="#1a1a1a" stroke-width="1" stroke-linecap="butt"/>
<line x1="117.84" y1="271" x2="117.84" y2="277.6" stroke="#1a1a1a" stroke-width="1" stroke-linecap="butt"/>
<line x1="113.34" y1="271" x2="122.34" y2="271" stroke="#1a1a1a" stroke-width="1" stroke-linecap="butt"/>
<line x1="145.16" y1="213.2" x2="145.16" y2="224.1" stroke="#1a1a1a" stroke-width="1" stroke-linecap="butt"/>
<line x1="140.66" y1="213.2" x2="149.66" y2="213.2" stroke="#1a1a1a" stroke-width="1" stroke-linecap="butt"/>
<line x1="158.82" y1="226.7" x2="158.82" y2="234" stroke="#1a1a1a" stroke-width="1" stroke-linecap="butt"/>
<line x1="154.32" y1="226.7" x2="163.32" y2="226.7" stroke="#1a1a1a" stroke-width="1" stroke-linecap="butt"/>
<circle cx="63.2" cy="258.8" r="4.4" fill="none" stroke="#1a1a1a" stroke-width="1.05"/>
<circle cx="76.86" cy="263.6" r="4.4" fill="none" stroke="#1a1a1a" stroke-width="1.05"/>
<circle cx="90.52" cy="275.7" r="4.4" fill="none" stroke="#1a1a1a" stroke-width="1.05"/>
<circle cx="104.18" cy="274.3" r="4.4" fill="none" stroke="#1a1a1a" stroke-width="1.05"/>
<circle cx="117.84" cy="277.6" r="4.4" fill="none" stroke="#1a1a1a" stroke-width="1.05"/>
<circle cx="131.5" cy="280.3" r="4.4" fill="none" stroke="#1a1a1a" stroke-width="1.05"/>
<circle cx="145.16" cy="224.1" r="4.4" fill="none" stroke="#1a1a1a" stroke-width="1.05"/>
<circle cx="158.82" cy="234" r="4.4" fill="none" stroke="#1a1a1a" stroke-width="1.05"/>
<circle cx="172.48" cy="292.5" r="4.4" fill="none" stroke="#1a1a1a" stroke-width="1.05"/>
<circle cx="186.14" cy="292.5" r="4.4" fill="none" stroke="#1a1a1a" stroke-width="1.05"/>
</g>
<circle cx="145.16" cy="207" r="1.15" fill="#1a1a1a"/>
<circle cx="158.82" cy="220.9" r="1.15" fill="#1a1a1a"/>
<clipPath id="c4"><rect x="239.7" y="170" width="150.3" height="125"/></clipPath>
<g clip-path="url(#c4)">
<polyline points="245.9,291.3 259.56,292.6 273.22,279.7 286.88,285.7 300.54,272.8 314.2,286.6 327.86,277.9 341.52,274.5 355.18,283.7 368.84,284.3" fill="none" stroke="#1a1a1a" stroke-width="1.3" stroke-dasharray="4,2" stroke-linejoin="round"/>
<polyline points="245.9,291.8 259.56,291.8 273.22,284 286.88,285.7 300.54,280.9 314.2,286.6 327.86,259.8 341.52,260.1 355.18,276.2 368.84,278.8" fill="none" stroke="#1a1a1a" stroke-width="1.4" stroke-linejoin="round"/>
<line x1="300.54" y1="264.6" x2="300.54" y2="272.8" stroke="#1a1a1a" stroke-width="1" stroke-linecap="butt"/>
<line x1="296.04" y1="264.6" x2="305.04" y2="264.6" stroke="#1a1a1a" stroke-width="1" stroke-linecap="butt"/>
<line x1="314.2" y1="279.7" x2="314.2" y2="286.6" stroke="#1a1a1a" stroke-width="1" stroke-linecap="butt"/>
<line x1="309.7" y1="279.7" x2="318.7" y2="279.7" stroke="#1a1a1a" stroke-width="1" stroke-linecap="butt"/>
<line x1="327.86" y1="270.2" x2="327.86" y2="277.9" stroke="#1a1a1a" stroke-width="1" stroke-linecap="butt"/>
<line x1="323.36" y1="270.2" x2="332.36" y2="270.2" stroke="#1a1a1a" stroke-width="1" stroke-linecap="butt"/>
<circle cx="245.9" cy="291.3" r="4.5" fill="#111" stroke="#111" stroke-width="0.8"/>
<circle cx="259.56" cy="292.6" r="4.5" fill="#111" stroke="#111" stroke-width="0.8"/>
<circle cx="273.22" cy="279.7" r="4.5" fill="#111" stroke="#111" stroke-width="0.8"/>
<circle cx="286.88" cy="285.7" r="4.5" fill="#111" stroke="#111" stroke-width="0.8"/>
<circle cx="300.54" cy="272.8" r="4.5" fill="#111" stroke="#111" stroke-width="0.8"/>
<circle cx="314.2" cy="286.6" r="4.5" fill="#111" stroke="#111" stroke-width="0.8"/>
<circle cx="327.86" cy="277.9" r="4.5" fill="#111" stroke="#111" stroke-width="0.8"/>
<circle cx="341.52" cy="274.5" r="4.5" fill="#111" stroke="#111" stroke-width="0.8"/>
<circle cx="355.18" cy="283.7" r="4.5" fill="#111" stroke="#111" stroke-width="0.8"/>
<circle cx="368.84" cy="284.3" r="4.5" fill="#111" stroke="#111" stroke-width="0.8"/>
<line x1="245.9" y1="284.9" x2="245.9" y2="291.8" stroke="#1a1a1a" stroke-width="1" stroke-linecap="butt"/>
<line x1="241.4" y1="284.9" x2="250.4" y2="284.9" stroke="#1a1a1a" stroke-width="1" stroke-linecap="butt"/>
<line x1="259.56" y1="287.8" x2="259.56" y2="291.8" stroke="#1a1a1a" stroke-width="1" stroke-linecap="butt"/>
<line x1="255.06" y1="287.8" x2="264.06" y2="287.8" stroke="#1a1a1a" stroke-width="1" stroke-linecap="butt"/>
<line x1="327.86" y1="247.7" x2="327.86" y2="259.8" stroke="#1a1a1a" stroke-width="1" stroke-linecap="butt"/>
<line x1="323.36" y1="247.7" x2="332.36" y2="247.7" stroke="#1a1a1a" stroke-width="1" stroke-linecap="butt"/>
<line x1="341.52" y1="247.7" x2="341.52" y2="260.1" stroke="#1a1a1a" stroke-width="1" stroke-linecap="butt"/>
<line x1="337.02" y1="247.7" x2="346.02" y2="247.7" stroke="#1a1a1a" stroke-width="1" stroke-linecap="butt"/>
<line x1="355.18" y1="257.7" x2="355.18" y2="276.2" stroke="#1a1a1a" stroke-width="1" stroke-linecap="butt"/>
<line x1="350.68" y1="257.7" x2="359.68" y2="257.7" stroke="#1a1a1a" stroke-width="1" stroke-linecap="butt"/>
<line x1="368.84" y1="271.5" x2="368.84" y2="278.8" stroke="#1a1a1a" stroke-width="1" stroke-linecap="butt"/>
<line x1="364.34" y1="271.5" x2="373.34" y2="271.5" stroke="#1a1a1a" stroke-width="1" stroke-linecap="butt"/>
<circle cx="245.9" cy="291.8" r="4.4" fill="none" stroke="#1a1a1a" stroke-width="1.05"/>
<circle cx="259.56" cy="291.8" r="4.4" fill="none" stroke="#1a1a1a" stroke-width="1.05"/>
<circle cx="273.22" cy="284" r="4.4" fill="none" stroke="#1a1a1a" stroke-width="1.05"/>
<circle cx="286.88" cy="285.7" r="4.4" fill="none" stroke="#1a1a1a" stroke-width="1.05"/>
<circle cx="300.54" cy="280.9" r="4.4" fill="none" stroke="#1a1a1a" stroke-width="1.05"/>
<circle cx="314.2" cy="286.6" r="4.4" fill="none" stroke="#1a1a1a" stroke-width="1.05"/>
<circle cx="327.86" cy="259.8" r="4.4" fill="none" stroke="#1a1a1a" stroke-width="1.05"/>
<circle cx="341.52" cy="260.1" r="4.4" fill="none" stroke="#1a1a1a" stroke-width="1.05"/>
<circle cx="355.18" cy="276.2" r="4.4" fill="none" stroke="#1a1a1a" stroke-width="1.05"/>
<circle cx="368.84" cy="278.8" r="4.4" fill="none" stroke="#1a1a1a" stroke-width="1.05"/>
</g>
<circle cx="341.52" cy="242.1" r="1.15" fill="#1a1a1a"/>
<line x1="379.4" y1="189.6" x2="396.6" y2="189.6" stroke="#1a1a1a" stroke-width="1.3" stroke-linecap="butt"/>
<circle cx="388" cy="189.6" r="3.1" fill="none" stroke="#1a1a1a" stroke-width="1.1"/>
<text x="0" y="0" transform="translate(399.9 192.6)" font-size="8.4" text-anchor="start" font-weight="normal" fill="#222" stroke="#222" stroke-width="0.15" textLength="24.8" lengthAdjust="spacingAndGlyphs">DMSO</text>
<line x1="379.4" y1="203.6" x2="382.6" y2="203.6" stroke="#1a1a1a" stroke-width="1.3" stroke-linecap="butt"/>
<line x1="393.4" y1="203.6" x2="396.6" y2="203.6" stroke="#1a1a1a" stroke-width="1.3" stroke-linecap="butt"/>
<circle cx="388" cy="203.6" r="3.5" fill="#111" stroke="#111" stroke-width="0.8"/>
<text x="0" y="0" transform="translate(399.9 206.6)" font-size="8.4" text-anchor="start" font-weight="normal" fill="#222" stroke="#222" stroke-width="0.15" textLength="25.6" lengthAdjust="spacingAndGlyphs">Torin-1</text>
<text x="0" y="0" transform="translate(7.8 362.3)" font-size="12.6" text-anchor="start" font-weight="bold" fill="#111" stroke="#111" stroke-width="0.2">B</text>
<text x="0" y="0" transform="translate(88.9 370.2)" font-size="10.3" text-anchor="start" font-weight="normal" fill="#222" stroke="#222" stroke-width="0.15" textLength="65.8" lengthAdjust="spacingAndGlyphs">CD25 percent</text>
<line x1="57.3" y1="393.8" x2="57.3" y2="524.5" stroke="#333" stroke-width="1.1" stroke-linecap="butt"/>
<line x1="54.3" y1="524.5" x2="57.3" y2="524.5" stroke="#333" stroke-width="1" stroke-linecap="butt"/>
<text x="0" y="0" transform="translate(51.3 527.69)" font-size="8.9" text-anchor="end" font-weight="normal" fill="#222" stroke="#222" stroke-width="0.15">0</text>
<line x1="54.3" y1="498.95" x2="57.3" y2="498.95" stroke="#333" stroke-width="1" stroke-linecap="butt"/>
<text x="0" y="0" transform="translate(51.3 502.14)" font-size="8.9" text-anchor="end" font-weight="normal" fill="#222" stroke="#222" stroke-width="0.15">20</text>
<line x1="54.3" y1="473.4" x2="57.3" y2="473.4" stroke="#333" stroke-width="1" stroke-linecap="butt"/>
<text x="0" y="0" transform="translate(51.3 476.59)" font-size="8.9" text-anchor="end" font-weight="normal" fill="#222" stroke="#222" stroke-width="0.15">40</text>
<line x1="54.3" y1="447.85" x2="57.3" y2="447.85" stroke="#333" stroke-width="1" stroke-linecap="butt"/>
<text x="0" y="0" transform="translate(51.3 451.04)" font-size="8.9" text-anchor="end" font-weight="normal" fill="#222" stroke="#222" stroke-width="0.15">60</text>
<line x1="54.3" y1="422.3" x2="57.3" y2="422.3" stroke="#333" stroke-width="1" stroke-linecap="butt"/>
<text x="0" y="0" transform="translate(51.3 425.49)" font-size="8.9" text-anchor="end" font-weight="normal" fill="#222" stroke="#222" stroke-width="0.15">80</text>
<line x1="54.3" y1="396.75" x2="57.3" y2="396.75" stroke="#333" stroke-width="1" stroke-linecap="butt"/>
<text x="0" y="0" transform="translate(51.3 399.94)" font-size="8.9" text-anchor="end" font-weight="normal" fill="#222" stroke="#222" stroke-width="0.15">100</text>
<line x1="57.3" y1="524.5" x2="187" y2="524.5" stroke="#333" stroke-width="1.1" stroke-linecap="butt"/>
<line x1="90" y1="524.5" x2="90" y2="527.5" stroke="#333" stroke-width="1" stroke-linecap="butt"/>
<line x1="153.5" y1="524.5" x2="153.5" y2="527.5" stroke="#333" stroke-width="1" stroke-linecap="butt"/>
<text x="0" y="0" transform="translate(89.2 538.4)" font-size="8.8" text-anchor="middle" font-weight="normal" fill="#222" stroke="#222" stroke-width="0.15" textLength="26.8" lengthAdjust="spacingAndGlyphs">IL2-NK</text>
<text x="0" y="0" transform="translate(154.1 538.4)" font-size="8.8" text-anchor="middle" font-weight="normal" fill="#222" stroke="#222" stroke-width="0.15" textLength="31.2" lengthAdjust="spacingAndGlyphs">IL15-NK</text>
<text x="0" y="0" transform="translate(30.4 460.9) rotate(-90)" font-size="10.2" text-anchor="middle" font-weight="normal" fill="#222" stroke="#222" stroke-width="0.15" textLength="120" lengthAdjust="spacingAndGlyphs">% of CD25<tspan font-size="6.5" dy="-3.5">+</tspan><tspan dy="3.5"> cells in NK cells</tspan></text>
<circle cx="77" cy="485" r="6.4" fill="none" stroke="#1a1a1a" stroke-width="1.12"/>
<circle cx="75.3" cy="495.3" r="6.4" fill="none" stroke="#1a1a1a" stroke-width="1.12"/>
<circle cx="77.6" cy="497.1" r="6.4" fill="none" stroke="#1a1a1a" stroke-width="1.12"/>
<circle cx="76.4" cy="500" r="6.4" fill="none" stroke="#1a1a1a" stroke-width="1.12"/>
<circle cx="77" cy="502.8" r="6.4" fill="none" stroke="#1a1a1a" stroke-width="1.12"/>
<circle cx="76.4" cy="505.7" r="6.4" fill="none" stroke="#1a1a1a" stroke-width="1.12"/>
<circle cx="77" cy="509.2" r="6.4" fill="none" stroke="#1a1a1a" stroke-width="1.12"/>
<circle cx="77.6" cy="512.7" r="6.4" fill="none" stroke="#1a1a1a" stroke-width="1.12"/>
<rect x="84.9" y="512.1" width="12.6" height="12.6" fill="none" stroke="#1a1a1a" stroke-width="1.1"/>
<rect x="90.4" y="512.1" width="12.6" height="12.6" fill="none" stroke="#1a1a1a" stroke-width="1.1"/>
<rect x="92.5" y="509.3" width="12.6" height="12.6" fill="none" stroke="#1a1a1a" stroke-width="1.1"/>
<rect x="95.8" y="511.6" width="12.6" height="12.6" fill="none" stroke="#1a1a1a" stroke-width="1.1"/>
<rect x="105" y="512.1" width="12.6" height="12.6" fill="none" stroke="#1a1a1a" stroke-width="1.1"/>
<rect x="94.2" y="513.2" width="12.6" height="12.6" fill="none" stroke="#1a1a1a" stroke-width="1.1"/>
<rect x="98.2" y="510.2" width="12.6" height="12.6" fill="none" stroke="#1a1a1a" stroke-width="1.1"/>
<rect x="97.4" y="504.2" width="12.6" height="12.6" fill="none" stroke="#1a1a1a" stroke-width="1.1"/>
<line x1="94.3" y1="516.7" x2="109.3" y2="516.7" stroke="#222" stroke-width="1.2" stroke-linecap="butt"/>
<line x1="101.8" y1="512.5" x2="101.8" y2="521" stroke="#222" stroke-width="1" stroke-linecap="butt"/>
<circle cx="129.1" cy="399.1" r="6.5" fill="none" stroke="#1a1a1a" stroke-width="1.12"/>
<circle cx="136.5" cy="397.8" r="6.5" fill="none" stroke="#1a1a1a" stroke-width="1.12"/>
<circle cx="143.3" cy="399.1" r="6.5" fill="none" stroke="#1a1a1a" stroke-width="1.12"/>
<circle cx="150.7" cy="398.5" r="6.5" fill="none" stroke="#1a1a1a" stroke-width="1.12"/>
<circle cx="130.5" cy="403.2" r="6.5" fill="none" stroke="#1a1a1a" stroke-width="1.12"/>
<circle cx="143.9" cy="402.5" r="6.5" fill="none" stroke="#1a1a1a" stroke-width="1.12"/>
<circle cx="147.3" cy="403.8" r="6.5" fill="none" stroke="#1a1a1a" stroke-width="1.12"/>
<circle cx="151.3" cy="406.5" r="6.5" fill="none" stroke="#1a1a1a" stroke-width="1.12"/>
<circle cx="139.9" cy="420.7" r="6.5" fill="none" stroke="#1a1a1a" stroke-width="1.12"/>
<line x1="142.6" y1="397.5" x2="142.6" y2="410.6" stroke="#1a1a1a" stroke-width="1" stroke-linecap="butt"/>
<line x1="139.6" y1="397.5" x2="145.6" y2="397.5" stroke="#1a1a1a" stroke-width="1" stroke-linecap="butt"/>
<line x1="139.6" y1="410.6" x2="145.6" y2="410.6" stroke="#1a1a1a" stroke-width="1" stroke-linecap="butt"/>
<rect x="159.6" y="394.4" width="13.2" height="13.2" fill="none" stroke="#1a1a1a" stroke-width="1.1"/>
<rect x="159.6" y="396" width="13.2" height="13.2" fill="none" stroke="#1a1a1a" stroke-width="1.1"/>
<rect x="159.6" y="397.6" width="13.2" height="13.2" fill="none" stroke="#1a1a1a" stroke-width="1.1"/>
<rect x="159.6" y="399.2" width="13.2" height="13.2" fill="none" stroke="#1a1a1a" stroke-width="1.1"/>
<rect x="159.6" y="400.8" width="13.2" height="13.2" fill="none" stroke="#1a1a1a" stroke-width="1.1"/>
<rect x="159.6" y="402.4" width="13.2" height="13.2" fill="none" stroke="#1a1a1a" stroke-width="1.1"/>
<line x1="159.8" y1="397.3" x2="172.6" y2="397.3" stroke="#333" stroke-width="0.9" stroke-linecap="butt"/>
<line x1="159.8" y1="400.5" x2="172.6" y2="400.5" stroke="#333" stroke-width="0.9" stroke-linecap="butt"/>
<line x1="159.8" y1="403" x2="172.6" y2="403" stroke="#333" stroke-width="0.9" stroke-linecap="butt"/>
<line x1="159.8" y1="406" x2="172.6" y2="406" stroke="#333" stroke-width="0.9" stroke-linecap="butt"/>
<line x1="159.8" y1="409.5" x2="172.6" y2="409.5" stroke="#333" stroke-width="0.9" stroke-linecap="butt"/>
<line x1="159.8" y1="412.5" x2="172.6" y2="412.5" stroke="#333" stroke-width="0.9" stroke-linecap="butt"/>
<line x1="166.1" y1="396" x2="166.1" y2="427.8" stroke="#222" stroke-width="1" stroke-linecap="butt"/>
<line x1="162.6" y1="427.8" x2="169.6" y2="427.8" stroke="#222" stroke-width="1" stroke-linecap="butt"/>
<rect x="159.7" y="424.4" width="12.8" height="12.8" fill="none" stroke="#1a1a1a" stroke-width="2"/>
<polyline points="71.1,455.3 71.1,447.8 104.4,447.8 104.4,455.3" fill="none" stroke="#222" stroke-width="1"/>
<circle cx="83.8" cy="441.4" r="1.15" fill="#1a1a1a"/>
<circle cx="88.1" cy="441.4" r="1.15" fill="#1a1a1a"/>
<circle cx="92.4" cy="441.4" r="1.15" fill="#1a1a1a"/>
<polyline points="140.8,449.2 140.8,462.2 170.9,462.2 170.9,449.2" fill="none" stroke="#222" stroke-width="1"/>
<text x="0" y="0" transform="translate(155.8 473)" font-size="8.6" text-anchor="middle" font-weight="normal" fill="#222" stroke="#222" stroke-width="0.15" textLength="11.5" lengthAdjust="spacingAndGlyphs">n.s</text>
<text x="0" y="0" transform="translate(250.2 370.2)" font-size="10.3" text-anchor="start" font-weight="normal" fill="#222" stroke="#222" stroke-width="0.15" textLength="108.7" lengthAdjust="spacingAndGlyphs">Intensity on CD25+ NK</text>
<line x1="239.5" y1="393" x2="239.5" y2="523.6" stroke="#333" stroke-width="1.1" stroke-linecap="butt"/>
<line x1="236.5" y1="523.6" x2="239.5" y2="523.6" stroke="#333" stroke-width="1" stroke-linecap="butt"/>
<text x="0" y="0" transform="translate(233.5 526.79)" font-size="8.9" text-anchor="end" font-weight="normal" fill="#222" stroke="#222" stroke-width="0.15">0</text>
<line x1="236.5" y1="491.6" x2="239.5" y2="491.6" stroke="#333" stroke-width="1" stroke-linecap="butt"/>
<text x="0" y="0" transform="translate(233.5 494.79)" font-size="8.9" text-anchor="end" font-weight="normal" fill="#222" stroke="#222" stroke-width="0.15">2</text>
<line x1="236.5" y1="459.6" x2="239.5" y2="459.6" stroke="#333" stroke-width="1" stroke-linecap="butt"/>
<text x="0" y="0" transform="translate(233.5 462.79)" font-size="8.9" text-anchor="end" font-weight="normal" fill="#222" stroke="#222" stroke-width="0.15">4</text>
<line x1="236.5" y1="427.6" x2="239.5" y2="427.6" stroke="#333" stroke-width="1" stroke-linecap="butt"/>
<text x="0" y="0" transform="translate(233.5 430.79)" font-size="8.9" text-anchor="end" font-weight="normal" fill="#222" stroke="#222" stroke-width="0.15">6</text>
<line x1="236.5" y1="395.6" x2="239.5" y2="395.6" stroke="#333" stroke-width="1" stroke-linecap="butt"/>
<text x="0" y="0" transform="translate(233.5 398.79)" font-size="8.9" text-anchor="end" font-weight="normal" fill="#222" stroke="#222" stroke-width="0.15">8</text>
<line x1="239.5" y1="523.6" x2="370" y2="523.6" stroke="#333" stroke-width="1.1" stroke-linecap="butt"/>
<line x1="271.4" y1="523.6" x2="271.4" y2="526.6" stroke="#333" stroke-width="1" stroke-linecap="butt"/>
<line x1="336.3" y1="523.6" x2="336.3" y2="526.6" stroke="#333" stroke-width="1" stroke-linecap="butt"/>
<text x="0" y="0" transform="translate(271.5 538.4)" font-size="8.8" text-anchor="middle" font-weight="normal" fill="#222" stroke="#222" stroke-width="0.15" textLength="26.8" lengthAdjust="spacingAndGlyphs">IL2-NK</text>
<text x="0" y="0" transform="translate(336.4 538.4)" font-size="8.8" text-anchor="middle" font-weight="normal" fill="#222" stroke="#222" stroke-width="0.15" textLength="31.2" lengthAdjust="spacingAndGlyphs">IL15-NK</text>
<text x="0" y="0" transform="translate(223.2 458.3) rotate(-90)" font-size="10.2" text-anchor="middle" font-weight="normal" fill="#222" stroke="#222" stroke-width="0.15" textLength="124" lengthAdjust="spacingAndGlyphs">Relative change to IL2-DMSO</text>
<line x1="240" y1="508.1" x2="362.3" y2="508.1" stroke="#222" stroke-width="1.2" stroke-dasharray="3.5,2.5" stroke-linecap="butt"/>
<circle cx="259.5" cy="508" r="6.4" fill="#111" stroke="#111" stroke-width="0.8"/>
<rect x="279.7" y="489.9" width="13.2" height="13.2" fill="none" stroke="#1a1a1a" stroke-width="1.1"/>
<rect x="274.9" y="493.3" width="13.2" height="13.2" fill="none" stroke="#1a1a1a" stroke-width="1.1"/>
<rect x="281.5" y="494.7" width="13.2" height="13.2" fill="none" stroke="#1a1a1a" stroke-width="1.1"/>
<rect x="267.6" y="503.9" width="13.2" height="13.2" fill="none" stroke="#1a1a1a" stroke-width="1.1"/>
<rect x="272.3" y="500.2" width="13.2" height="13.2" fill="none" stroke="#1a1a1a" stroke-width="1.1"/>
<rect x="287.3" y="502.2" width="13.2" height="13.2" fill="none" stroke="#1a1a1a" stroke-width="1.1"/>
<rect x="276.3" y="505.9" width="13.2" height="13.2" fill="none" stroke="#1a1a1a" stroke-width="1.1"/>
<rect x="277.8" y="504.3" width="13.2" height="13.2" fill="none" stroke="#1a1a1a" stroke-width="1.1"/>
<line x1="276" y1="505.3" x2="292" y2="505.3" stroke="#222" stroke-width="1.1" stroke-linecap="butt"/>
<line x1="284" y1="500" x2="284" y2="516" stroke="#444" stroke-width="1" stroke-linecap="butt"/>
<circle cx="324.6" cy="413.3" r="6.5" fill="none" stroke="#1a1a1a" stroke-width="1.12"/>
<circle cx="334.2" cy="432.1" r="6.5" fill="none" stroke="#1a1a1a" stroke-width="1.12"/>
<circle cx="320.4" cy="441.3" r="6.5" fill="none" stroke="#1a1a1a" stroke-width="1.12"/>
<circle cx="324.8" cy="454.6" r="6.5" fill="none" stroke="#1a1a1a" stroke-width="1.12"/>
<circle cx="324.4" cy="463.3" r="6.5" fill="none" stroke="#1a1a1a" stroke-width="1.12"/>
<circle cx="324.4" cy="471.3" r="6.5" fill="none" stroke="#1a1a1a" stroke-width="1.12"/>
<circle cx="334.2" cy="484.6" r="6.5" fill="none" stroke="#1a1a1a" stroke-width="1.12"/>
<circle cx="320.4" cy="491.5" r="6.5" fill="none" stroke="#1a1a1a" stroke-width="1.12"/>
<line x1="324.4" y1="430.2" x2="324.4" y2="483.2" stroke="#1a1a1a" stroke-width="1" stroke-linecap="butt"/>
<line x1="321.05" y1="430.2" x2="327.75" y2="430.2" stroke="#1a1a1a" stroke-width="1" stroke-linecap="butt"/>
<line x1="321.05" y1="483.2" x2="327.75" y2="483.2" stroke="#1a1a1a" stroke-width="1" stroke-linecap="butt"/>
<line x1="317.2" y1="456.7" x2="331.7" y2="456.7" stroke="#222" stroke-width="1.1" stroke-linecap="butt"/>
<rect x="342.2" y="470.2" width="13.6" height="13.6" fill="none" stroke="#1a1a1a" stroke-width="1.1"/>
<rect x="342.2" y="475.2" width="13.6" height="13.6" fill="none" stroke="#1a1a1a" stroke-width="1.1"/>
<rect x="342.2" y="479.2" width="13.6" height="13.6" fill="none" stroke="#1a1a1a" stroke-width="1.1"/>
<rect x="342.2" y="482.2" width="13.6" height="13.6" fill="none" stroke="#1a1a1a" stroke-width="1.1"/>
<rect x="342.2" y="484.7" width="13.6" height="13.6" fill="none" stroke="#1a1a1a" stroke-width="1.1"/>
<rect x="342.2" y="487.2" width="13.6" height="13.6" fill="none" stroke="#1a1a1a" stroke-width="1.1"/>
<rect x="342.2" y="490.2" width="13.6" height="13.6" fill="none" stroke="#1a1a1a" stroke-width="1.1"/>
<rect x="342.2" y="493.7" width="13.6" height="13.6" fill="none" stroke="#1a1a1a" stroke-width="1.1"/>
<rect x="342.2" y="498.2" width="13.6" height="13.6" fill="none" stroke="#1a1a1a" stroke-width="1.1"/>
<line x1="342.3" y1="484" x2="355.7" y2="484" stroke="#333" stroke-width="0.9" stroke-linecap="butt"/>
<line x1="342.3" y1="489" x2="355.7" y2="489" stroke="#333" stroke-width="0.9" stroke-linecap="butt"/>
<line x1="342.3" y1="495" x2="355.7" y2="495" stroke="#333" stroke-width="0.9" stroke-linecap="butt"/>
<line x1="342.3" y1="501" x2="355.7" y2="501" stroke="#333" stroke-width="0.9" stroke-linecap="butt"/>
<line x1="349" y1="476" x2="349" y2="508" stroke="#222" stroke-width="1" stroke-linecap="butt"/>
<polyline points="323.4,400.8 323.4,383.8 349.8,383.8 349.8,456.7" fill="none" stroke="#222" stroke-width="1"/>
<circle cx="336.3" cy="377.8" r="1.15" fill="#1a1a1a"/>
<rect x="388.3" y="354.8" width="76.5" height="76.5" fill="none" stroke="#222" stroke-width="1.1"/>
<line x1="385.9" y1="431.3" x2="388.3" y2="431.3" stroke="#333" stroke-width="0.8" stroke-linecap="butt"/>
<line x1="385.9" y1="416.6" x2="388.3" y2="416.6" stroke="#333" stroke-width="0.8" stroke-linecap="butt"/>
<line x1="385.9" y1="401.9" x2="388.3" y2="401.9" stroke="#333" stroke-width="0.8" stroke-linecap="butt"/>
<line x1="385.9" y1="387.2" x2="388.3" y2="387.2" stroke="#333" stroke-width="0.8" stroke-linecap="butt"/>
<line x1="385.9" y1="372.5" x2="388.3" y2="372.5" stroke="#333" stroke-width="0.8" stroke-linecap="butt"/>
<line x1="385.9" y1="357.8" x2="388.3" y2="357.8" stroke="#333" stroke-width="0.8" stroke-linecap="butt"/>
<line x1="386.7" y1="357.8" x2="388.3" y2="357.8" stroke="#444" stroke-width="0.7" stroke-linecap="butt"/>
<line x1="386.7" y1="361.8" x2="388.3" y2="361.8" stroke="#444" stroke-width="0.7" stroke-linecap="butt"/>
<line x1="386.7" y1="365.6" x2="388.3" y2="365.6" stroke="#444" stroke-width="0.7" stroke-linecap="butt"/>
<line x1="386.7" y1="369" x2="388.3" y2="369" stroke="#444" stroke-width="0.7" stroke-linecap="butt"/>
<line x1="386.7" y1="372.5" x2="388.3" y2="372.5" stroke="#444" stroke-width="0.7" stroke-linecap="butt"/>
<line x1="389.3" y1="431.3" x2="389.3" y2="434.3" stroke="#333" stroke-width="0.8" stroke-linecap="butt"/>
<line x1="393.8" y1="431.3" x2="393.8" y2="433.5" stroke="#333" stroke-width="0.8" stroke-linecap="butt"/>
<line x1="396.5" y1="431.3" x2="396.5" y2="433.5" stroke="#333" stroke-width="0.8" stroke-linecap="butt"/>
<line x1="398.3" y1="431.3" x2="398.3" y2="433.5" stroke="#333" stroke-width="0.8" stroke-linecap="butt"/>
<line x1="399.9" y1="431.3" x2="399.9" y2="433.5" stroke="#333" stroke-width="0.8" stroke-linecap="butt"/>
<line x1="401" y1="431.3" x2="401" y2="433.5" stroke="#333" stroke-width="0.8" stroke-linecap="butt"/>
<line x1="402" y1="431.3" x2="402" y2="433.5" stroke="#333" stroke-width="0.8" stroke-linecap="butt"/>
<line x1="402.9" y1="431.3" x2="402.9" y2="433.5" stroke="#333" stroke-width="0.8" stroke-linecap="butt"/>
<line x1="403.6" y1="431.3" x2="403.6" y2="433.5" stroke="#333" stroke-width="0.8" stroke-linecap="butt"/>
<line x1="404.3" y1="431.3" x2="404.3" y2="434.3" stroke="#333" stroke-width="0.8" stroke-linecap="butt"/>
<line x1="408.8" y1="431.3" x2="408.8" y2="433.5" stroke="#333" stroke-width="0.8" stroke-linecap="butt"/>
<line x1="411.5" y1="431.3" x2="411.5" y2="433.5" stroke="#333" stroke-width="0.8" stroke-linecap="butt"/>
<line x1="413.3" y1="431.3" x2="413.3" y2="433.5" stroke="#333" stroke-width="0.8" stroke-linecap="butt"/>
<line x1="414.9" y1="431.3" x2="414.9" y2="433.5" stroke="#333" stroke-width="0.8" stroke-linecap="butt"/>
<line x1="416" y1="431.3" x2="416" y2="433.5" stroke="#333" stroke-width="0.8" stroke-linecap="butt"/>
<line x1="417" y1="431.3" x2="417" y2="433.5" stroke="#333" stroke-width="0.8" stroke-linecap="butt"/>
<line x1="417.9" y1="431.3" x2="417.9" y2="433.5" stroke="#333" stroke-width="0.8" stroke-linecap="butt"/>
<line x1="418.6" y1="431.3" x2="418.6" y2="433.5" stroke="#333" stroke-width="0.8" stroke-linecap="butt"/>
<line x1="419.3" y1="431.3" x2="419.3" y2="434.3" stroke="#333" stroke-width="0.8" stroke-linecap="butt"/>
<line x1="423.8" y1="431.3" x2="423.8" y2="433.5" stroke="#333" stroke-width="0.8" stroke-linecap="butt"/>
<line x1="426.5" y1="431.3" x2="426.5" y2="433.5" stroke="#333" stroke-width="0.8" stroke-linecap="butt"/>
<line x1="428.3" y1="431.3" x2="428.3" y2="433.5" stroke="#333" stroke-width="0.8" stroke-linecap="butt"/>
<line x1="429.9" y1="431.3" x2="429.9" y2="433.5" stroke="#333" stroke-width="0.8" stroke-linecap="butt"/>
<line x1="431" y1="431.3" x2="431" y2="433.5" stroke="#333" stroke-width="0.8" stroke-linecap="butt"/>
<line x1="432" y1="431.3" x2="432" y2="433.5" stroke="#333" stroke-width="0.8" stroke-linecap="butt"/>
<line x1="432.9" y1="431.3" x2="432.9" y2="433.5" stroke="#333" stroke-width="0.8" stroke-linecap="butt"/>
<line x1="433.6" y1="431.3" x2="433.6" y2="433.5" stroke="#333" stroke-width="0.8" stroke-linecap="butt"/>
<line x1="434.3" y1="431.3" x2="434.3" y2="434.3" stroke="#333" stroke-width="0.8" stroke-linecap="butt"/>
<line x1="438.8" y1="431.3" x2="438.8" y2="433.5" stroke="#333" stroke-width="0.8" stroke-linecap="butt"/>
<line x1="441.5" y1="431.3" x2="441.5" y2="433.5" stroke="#333" stroke-width="0.8" stroke-linecap="butt"/>
<line x1="443.3" y1="431.3" x2="443.3" y2="433.5" stroke="#333" stroke-width="0.8" stroke-linecap="butt"/>
<line x1="444.9" y1="431.3" x2="444.9" y2="433.5" stroke="#333" stroke-width="0.8" stroke-linecap="butt"/>
<line x1="446" y1="431.3" x2="446" y2="433.5" stroke="#333" stroke-width="0.8" stroke-linecap="butt"/>
<line x1="447" y1="431.3" x2="447" y2="433.5" stroke="#333" stroke-width="0.8" stroke-linecap="butt"/>
<line x1="447.9" y1="431.3" x2="447.9" y2="433.5" stroke="#333" stroke-width="0.8" stroke-linecap="butt"/>
<line x1="448.6" y1="431.3" x2="448.6" y2="433.5" stroke="#333" stroke-width="0.8" stroke-linecap="butt"/>
<line x1="449.3" y1="431.3" x2="449.3" y2="434.3" stroke="#333" stroke-width="0.8" stroke-linecap="butt"/>
<line x1="453.8" y1="431.3" x2="453.8" y2="433.5" stroke="#333" stroke-width="0.8" stroke-linecap="butt"/>
<line x1="456.5" y1="431.3" x2="456.5" y2="433.5" stroke="#333" stroke-width="0.8" stroke-linecap="butt"/>
<line x1="458.3" y1="431.3" x2="458.3" y2="433.5" stroke="#333" stroke-width="0.8" stroke-linecap="butt"/>
<line x1="459.9" y1="431.3" x2="459.9" y2="433.5" stroke="#333" stroke-width="0.8" stroke-linecap="butt"/>
<line x1="461" y1="431.3" x2="461" y2="433.5" stroke="#333" stroke-width="0.8" stroke-linecap="butt"/>
<line x1="462" y1="431.3" x2="462" y2="433.5" stroke="#333" stroke-width="0.8" stroke-linecap="butt"/>
<line x1="462.9" y1="431.3" x2="462.9" y2="433.5" stroke="#333" stroke-width="0.8" stroke-linecap="butt"/>
<line x1="463.6" y1="431.3" x2="463.6" y2="433.5" stroke="#333" stroke-width="0.8" stroke-linecap="butt"/>
<rect x="388.3" y="439.5" width="76.5" height="76" fill="none" stroke="#222" stroke-width="1.1"/>
<line x1="385.9" y1="515.5" x2="388.3" y2="515.5" stroke="#333" stroke-width="0.8" stroke-linecap="butt"/>
<line x1="385.9" y1="500.8" x2="388.3" y2="500.8" stroke="#333" stroke-width="0.8" stroke-linecap="butt"/>
<line x1="385.9" y1="486.1" x2="388.3" y2="486.1" stroke="#333" stroke-width="0.8" stroke-linecap="butt"/>
<line x1="385.9" y1="471.4" x2="388.3" y2="471.4" stroke="#333" stroke-width="0.8" stroke-linecap="butt"/>
<line x1="385.9" y1="456.7" x2="388.3" y2="456.7" stroke="#333" stroke-width="0.8" stroke-linecap="butt"/>
<line x1="385.9" y1="442" x2="388.3" y2="442" stroke="#333" stroke-width="0.8" stroke-linecap="butt"/>
<line x1="386.7" y1="442.5" x2="388.3" y2="442.5" stroke="#444" stroke-width="0.7" stroke-linecap="butt"/>
<line x1="386.7" y1="446.5" x2="388.3" y2="446.5" stroke="#444" stroke-width="0.7" stroke-linecap="butt"/>
<line x1="386.7" y1="450.3" x2="388.3" y2="450.3" stroke="#444" stroke-width="0.7" stroke-linecap="butt"/>
<line x1="386.7" y1="453.7" x2="388.3" y2="453.7" stroke="#444" stroke-width="0.7" stroke-linecap="butt"/>
<line x1="386.7" y1="457.2" x2="388.3" y2="457.2" stroke="#444" stroke-width="0.7" stroke-linecap="butt"/>
<line x1="389.3" y1="515.5" x2="389.3" y2="518.5" stroke="#333" stroke-width="0.8" stroke-linecap="butt"/>
<line x1="393.8" y1="515.5" x2="393.8" y2="517.7" stroke="#333" stroke-width="0.8" stroke-linecap="butt"/>
<line x1="396.5" y1="515.5" x2="396.5" y2="517.7" stroke="#333" stroke-width="0.8" stroke-linecap="butt"/>
<line x1="398.3" y1="515.5" x2="398.3" y2="517.7" stroke="#333" stroke-width="0.8" stroke-linecap="butt"/>
<line x1="399.9" y1="515.5" x2="399.9" y2="517.7" stroke="#333" stroke-width="0.8" stroke-linecap="butt"/>
<line x1="401" y1="515.5" x2="401" y2="517.7" stroke="#333" stroke-width="0.8" stroke-linecap="butt"/>
<line x1="402" y1="515.5" x2="402" y2="517.7" stroke="#333" stroke-width="0.8" stroke-linecap="butt"/>
<line x1="402.9" y1="515.5" x2="402.9" y2="517.7" stroke="#333" stroke-width="0.8" stroke-linecap="butt"/>
<line x1="403.6" y1="515.5" x2="403.6" y2="517.7" stroke="#333" stroke-width="0.8" stroke-linecap="butt"/>
<line x1="404.3" y1="515.5" x2="404.3" y2="518.5" stroke="#333" stroke-width="0.8" stroke-linecap="butt"/>
<line x1="408.8" y1="515.5" x2="408.8" y2="517.7" stroke="#333" stroke-width="0.8" stroke-linecap="butt"/>
<line x1="411.5" y1="515.5" x2="411.5" y2="517.7" stroke="#333" stroke-width="0.8" stroke-linecap="butt"/>
<line x1="413.3" y1="515.5" x2="413.3" y2="517.7" stroke="#333" stroke-width="0.8" stroke-linecap="butt"/>
<line x1="414.9" y1="515.5" x2="414.9" y2="517.7" stroke="#333" stroke-width="0.8" stroke-linecap="butt"/>
<line x1="416" y1="515.5" x2="416" y2="517.7" stroke="#333" stroke-width="0.8" stroke-linecap="butt"/>
<line x1="417" y1="515.5" x2="417" y2="517.7" stroke="#333" stroke-width="0.8" stroke-linecap="butt"/>
<line x1="417.9" y1="515.5" x2="417.9" y2="517.7" stroke="#333" stroke-width="0.8" stroke-linecap="butt"/>
<line x1="418.6" y1="515.5" x2="418.6" y2="517.7" stroke="#333" stroke-width="0.8" stroke-linecap="butt"/>
<line x1="419.3" y1="515.5" x2="419.3" y2="518.5" stroke="#333" stroke-width="0.8" stroke-linecap="butt"/>
<line x1="423.8" y1="515.5" x2="423.8" y2="517.7" stroke="#333" stroke-width="0.8" stroke-linecap="butt"/>
<line x1="426.5" y1="515.5" x2="426.5" y2="517.7" stroke="#333" stroke-width="0.8" stroke-linecap="butt"/>
<line x1="428.3" y1="515.5" x2="428.3" y2="517.7" stroke="#333" stroke-width="0.8" stroke-linecap="butt"/>
<line x1="429.9" y1="515.5" x2="429.9" y2="517.7" stroke="#333" stroke-width="0.8" stroke-linecap="butt"/>
<line x1="431" y1="515.5" x2="431" y2="517.7" stroke="#333" stroke-width="0.8" stroke-linecap="butt"/>
<line x1="432" y1="515.5" x2="432" y2="517.7" stroke="#333" stroke-width="0.8" stroke-linecap="butt"/>
<line x1="432.9" y1="515.5" x2="432.9" y2="517.7" stroke="#333" stroke-width="0.8" stroke-linecap="butt"/>
<line x1="433.6" y1="515.5" x2="433.6" y2="517.7" stroke="#333" stroke-width="0.8" stroke-linecap="butt"/>
<line x1="434.3" y1="515.5" x2="434.3" y2="518.5" stroke="#333" stroke-width="0.8" stroke-linecap="butt"/>
<line x1="438.8" y1="515.5" x2="438.8" y2="517.7" stroke="#333" stroke-width="0.8" stroke-linecap="butt"/>
<line x1="441.5" y1="515.5" x2="441.5" y2="517.7" stroke="#333" stroke-width="0.8" stroke-linecap="butt"/>
<line x1="443.3" y1="515.5" x2="443.3" y2="517.7" stroke="#333" stroke-width="0.8" stroke-linecap="butt"/>
<line x1="444.9" y1="515.5" x2="444.9" y2="517.7" stroke="#333" stroke-width="0.8" stroke-linecap="butt"/>
<line x1="446" y1="515.5" x2="446" y2="517.7" stroke="#333" stroke-width="0.8" stroke-linecap="butt"/>
<line x1="447" y1="515.5" x2="447" y2="517.7" stroke="#333" stroke-width="0.8" stroke-linecap="butt"/>
<line x1="447.9" y1="515.5" x2="447.9" y2="517.7" stroke="#333" stroke-width="0.8" stroke-linecap="butt"/>
<line x1="448.6" y1="515.5" x2="448.6" y2="517.7" stroke="#333" stroke-width="0.8" stroke-linecap="butt"/>
<line x1="449.3" y1="515.5" x2="449.3" y2="518.5" stroke="#333" stroke-width="0.8" stroke-linecap="butt"/>
<line x1="453.8" y1="515.5" x2="453.8" y2="517.7" stroke="#333" stroke-width="0.8" stroke-linecap="butt"/>
<line x1="456.5" y1="515.5" x2="456.5" y2="517.7" stroke="#333" stroke-width="0.8" stroke-linecap="butt"/>
<line x1="458.3" y1="515.5" x2="458.3" y2="517.7" stroke="#333" stroke-width="0.8" stroke-linecap="butt"/>
<line x1="459.9" y1="515.5" x2="459.9" y2="517.7" stroke="#333" stroke-width="0.8" stroke-linecap="butt"/>
<line x1="461" y1="515.5" x2="461" y2="517.7" stroke="#333" stroke-width="0.8" stroke-linecap="butt"/>
<line x1="462" y1="515.5" x2="462" y2="517.7" stroke="#333" stroke-width="0.8" stroke-linecap="butt"/>
<line x1="462.9" y1="515.5" x2="462.9" y2="517.7" stroke="#333" stroke-width="0.8" stroke-linecap="butt"/>
<line x1="463.6" y1="515.5" x2="463.6" y2="517.7" stroke="#333" stroke-width="0.8" stroke-linecap="butt"/>
<path d="M408.3,431 C410.5,428 411.8,424 412.5,420 L414.2,410 L415.9,398 L417.9,361 L418.8,361 L421,398 L421.8,412 L422.6,424 L422.9,431 Z" fill="#919191" stroke="none"/>
<path d="M402.5,431 C406,430.6 408,429.6 409.8,426.5 C411.5,423 412.8,418 413.9,411 L415.3,399 L418.3,359.5 L421.3,399 C422,408 422.8,414 424.3,417.5 C426,421 429,423.5 432,425.8 C434.5,427.8 437,430 440,431" fill="none" stroke="#111" stroke-width="1.3" stroke-linejoin="round"/>
<path d="M409.8,515.3 C412.5,512 414.6,503 416.3,487 L418.5,476 L420.1,471.3 L421.5,462 L424.1,459.2 L425.6,455 L427,452 L428,458 L429.5,449 L430.6,448.8 L432,452 L433.5,456 L435.4,459 L438.5,472 L441.4,486.9 L444.5,498 L446.5,507 L448.3,515.3 Z" fill="#919191" stroke="none"/>
<path d="M414.5,515.3 C417.5,513.8 420,509 421.7,504.2 C423,499 424,492 424.6,487 C425.6,480 426.3,474 427,469.6 C428,463 429.2,459 430.2,457.5 L432.8,444.5 L434.6,453 L435.6,452.2 L436.6,457 C437.6,461 439,466 439.7,469.6 C441.8,476 443.6,482 444.9,486.9 C446.5,494 447.6,499 448.9,504 C450,509 451,513 453.5,515.3" fill="none" stroke="#111" stroke-width="1.3" stroke-linejoin="round"/>
<text x="0" y="0" transform="translate(472.3 396.5)" font-size="10.3" text-anchor="start" font-weight="normal" fill="#222" stroke="#222" stroke-width="0.15" textLength="33" lengthAdjust="spacingAndGlyphs">IL2-NK</text>
<text x="0" y="0" transform="translate(472.2 480.7)" font-size="10.3" text-anchor="start" font-weight="normal" fill="#222" stroke="#222" stroke-width="0.15" textLength="38.9" lengthAdjust="spacingAndGlyphs">IL15-NK</text>
<line x1="388.3" y1="523.9" x2="449" y2="523.9" stroke="#111" stroke-width="1.3" stroke-linecap="butt"/>
<polygon points="455.4,523.9 447.4,520.9 447.4,526.9" fill="#111"/>
<text x="0" y="0" transform="translate(388.6 538)" font-size="10.3" text-anchor="start" font-weight="normal" fill="#222" stroke="#222" stroke-width="0.15" textLength="26.3" lengthAdjust="spacingAndGlyphs">CD25</text>
<rect x="389.4" y="549.2" width="9.4" height="8.6" fill="#fff" stroke="#222" stroke-width="1.1"/>
<text x="0" y="0" transform="translate(402.2 556.3)" font-size="8.4" text-anchor="start" font-weight="normal" fill="#222" stroke="#222" stroke-width="0.15" textLength="24.6" lengthAdjust="spacingAndGlyphs">DMSO</text>
<rect x="435.2" y="548.6" width="8.9" height="9.4" fill="#919191" stroke="none"/>
<text x="0" y="0" transform="translate(447.4 556.3)" font-size="8.4" text-anchor="start" font-weight="normal" fill="#222" stroke="#222" stroke-width="0.15" textLength="25.2" lengthAdjust="spacingAndGlyphs">Torin-1</text>
<circle cx="168.6" cy="553.1" r="4.3" fill="none" stroke="#1a1a1a" stroke-width="1.1"/>
<text x="0" y="0" transform="translate(177.6 556.2)" font-size="8.4" text-anchor="start" font-weight="normal" fill="#222" stroke="#222" stroke-width="0.15" textLength="24.6" lengthAdjust="spacingAndGlyphs">DMSO</text>
<rect x="208.8" y="548.5" width="9.4" height="9.4" fill="none" stroke="#1a1a1a" stroke-width="1.1"/>
<text x="0" y="0" transform="translate(221.6 556.2)" font-size="8.4" text-anchor="start" font-weight="normal" fill="#222" stroke="#222" stroke-width="0.15" textLength="25.4" lengthAdjust="spacingAndGlyphs">Torin-1</text>
<text x="0" y="0" transform="translate(25.6 594.6)" font-size="12.6" text-anchor="start" font-weight="bold" fill="#111" stroke="#111" stroke-width="0.2">C</text>
<text x="0" y="0" transform="translate(89.1 592.5)" font-size="10.3" text-anchor="start" font-weight="normal" fill="#222" stroke="#222" stroke-width="0.15" textLength="58.2" lengthAdjust="spacingAndGlyphs">Surface IL-2</text>
<text x="0" y="0" transform="translate(221 592.5)" font-size="10.3" text-anchor="start" font-weight="normal" fill="#222" stroke="#222" stroke-width="0.15" textLength="64" lengthAdjust="spacingAndGlyphs">Surface IL-15</text>
<text x="0" y="0" transform="translate(361.3 592.6)" font-size="10.3" text-anchor="start" font-weight="normal" fill="#222" stroke="#222" stroke-width="0.15" textLength="37.4" lengthAdjust="spacingAndGlyphs">IL-15R&#945;</text>
<line x1="75" y1="617.8" x2="75" y2="762.2" stroke="#333" stroke-width="1.1" stroke-linecap="butt"/>
<line x1="72" y1="762.5" x2="75" y2="762.5" stroke="#333" stroke-width="1" stroke-linecap="butt"/>
<text x="0" y="0" transform="translate(69 765.69)" font-size="8.9" text-anchor="end" font-weight="normal" fill="#222" stroke="#222" stroke-width="0.15">0.8</text>
<line x1="72" y1="734" x2="75" y2="734" stroke="#333" stroke-width="1" stroke-linecap="butt"/>
<text x="0" y="0" transform="translate(69 737.19)" font-size="8.9" text-anchor="end" font-weight="normal" fill="#222" stroke="#222" stroke-width="0.15">1.0</text>
<line x1="72" y1="705.5" x2="75" y2="705.5" stroke="#333" stroke-width="1" stroke-linecap="butt"/>
<text x="0" y="0" transform="translate(69 708.69)" font-size="8.9" text-anchor="end" font-weight="normal" fill="#222" stroke="#222" stroke-width="0.15">1.2</text>
<line x1="72" y1="677" x2="75" y2="677" stroke="#333" stroke-width="1" stroke-linecap="butt"/>
<text x="0" y="0" transform="translate(69 680.19)" font-size="8.9" text-anchor="end" font-weight="normal" fill="#222" stroke="#222" stroke-width="0.15">1.4</text>
<line x1="72" y1="648.5" x2="75" y2="648.5" stroke="#333" stroke-width="1" stroke-linecap="butt"/>
<text x="0" y="0" transform="translate(69 651.69)" font-size="8.9" text-anchor="end" font-weight="normal" fill="#222" stroke="#222" stroke-width="0.15">1.6</text>
<line x1="72" y1="620" x2="75" y2="620" stroke="#333" stroke-width="1" stroke-linecap="butt"/>
<text x="0" y="0" transform="translate(69 623.19)" font-size="8.9" text-anchor="end" font-weight="normal" fill="#222" stroke="#222" stroke-width="0.15">1.8</text>
<line x1="75" y1="762.2" x2="161.4" y2="762.2" stroke="#333" stroke-width="1.1" stroke-linecap="butt"/>
<line x1="95.7" y1="762.2" x2="95.7" y2="765.2" stroke="#333" stroke-width="1" stroke-linecap="butt"/>
<line x1="138.6" y1="762.2" x2="138.6" y2="765.2" stroke="#333" stroke-width="1" stroke-linecap="butt"/>
<text x="0" y="0" transform="translate(95.7 775.9)" font-size="8.8" text-anchor="middle" font-weight="normal" fill="#222" stroke="#222" stroke-width="0.15" textLength="26.8" lengthAdjust="spacingAndGlyphs">IL2-NK</text>
<text x="0" y="0" transform="translate(138.6 775.9)" font-size="8.8" text-anchor="middle" font-weight="normal" fill="#222" stroke="#222" stroke-width="0.15" textLength="31.2" lengthAdjust="spacingAndGlyphs">IL15-NK</text>
<text x="0" y="0" transform="translate(51.2 689.6) rotate(-90)" font-size="10.2" text-anchor="middle" font-weight="normal" fill="#222" stroke="#222" stroke-width="0.15" textLength="123.5" lengthAdjust="spacingAndGlyphs">Relative change to IL2-DMSO</text>
<line x1="75.5" y1="734" x2="176.3" y2="734" stroke="#222" stroke-width="1.1" stroke-dasharray="2.2,1.8" stroke-linecap="butt"/>
<circle cx="87.5" cy="733.9" r="6.2" fill="#111" stroke="#111" stroke-width="0.8"/>
<rect x="107.4" y="716" width="12.2" height="12.2" fill="none" stroke="#1a1a1a" stroke-width="1.1"/>
<rect x="88.3" y="721.2" width="12.2" height="12.2" fill="none" stroke="#1a1a1a" stroke-width="1.1"/>
<rect x="94.4" y="722.9" width="12.2" height="12.2" fill="none" stroke="#1a1a1a" stroke-width="1.1"/>
<rect x="97.9" y="725.5" width="12.2" height="12.2" fill="none" stroke="#1a1a1a" stroke-width="1.1"/>
<rect x="100.4" y="729" width="12.2" height="12.2" fill="none" stroke="#1a1a1a" stroke-width="1.1"/>
<rect x="107.4" y="735.9" width="12.2" height="12.2" fill="none" stroke="#1a1a1a" stroke-width="1.1"/>
<rect x="97.9" y="742.8" width="12.2" height="12.2" fill="none" stroke="#1a1a1a" stroke-width="1.1"/>
<rect x="92.7" y="729.9" width="12.2" height="12.2" fill="none" stroke="#1a1a1a" stroke-width="1.1"/>
<rect x="100" y="727" width="6" height="8" fill="#888" opacity="0.7"/>
<line x1="103" y1="722" x2="103" y2="742" stroke="#333" stroke-width="1" stroke-linecap="butt"/>
<circle cx="130.4" cy="655.9" r="6.3" fill="none" stroke="#1a1a1a" stroke-width="1.12"/>
<circle cx="130.4" cy="686.5" r="6.3" fill="none" stroke="#1a1a1a" stroke-width="1.12"/>
<circle cx="126.7" cy="696.7" r="6.3" fill="none" stroke="#1a1a1a" stroke-width="1.12"/>
<circle cx="135.5" cy="694.8" r="6.3" fill="none" stroke="#1a1a1a" stroke-width="1.12"/>
<circle cx="121.5" cy="706" r="6.3" fill="none" stroke="#1a1a1a" stroke-width="1.12"/>
<circle cx="130.4" cy="706.9" r="6.3" fill="none" stroke="#1a1a1a" stroke-width="1.12"/>
<circle cx="140.1" cy="703.5" r="6.3" fill="none" stroke="#1a1a1a" stroke-width="1.12"/>
<circle cx="130.8" cy="739.4" r="6.3" fill="none" stroke="#1a1a1a" stroke-width="1.12"/>
<line x1="130.4" y1="675.7" x2="130.4" y2="722.1" stroke="#1a1a1a" stroke-width="1" stroke-linecap="butt"/>
<line x1="127.9" y1="675.7" x2="132.9" y2="675.7" stroke="#1a1a1a" stroke-width="1" stroke-linecap="butt"/>
<line x1="127.9" y1="722.1" x2="132.9" y2="722.1" stroke="#1a1a1a" stroke-width="1" stroke-linecap="butt"/>
<rect x="137.6" y="719.5" width="12.2" height="12.2" fill="none" stroke="#1a1a1a" stroke-width="1.1"/>
<rect x="143.7" y="718.6" width="12.2" height="12.2" fill="none" stroke="#1a1a1a" stroke-width="1.1"/>
<rect x="149.8" y="720.3" width="12.2" height="12.2" fill="none" stroke="#1a1a1a" stroke-width="1.1"/>
<rect x="140.2" y="722.9" width="12.2" height="12.2" fill="none" stroke="#1a1a1a" stroke-width="1.1"/>
<rect x="144.6" y="724.7" width="12.2" height="12.2" fill="none" stroke="#1a1a1a" stroke-width="1.1"/>
<rect x="135.9" y="721.2" width="12.2" height="12.2" fill="none" stroke="#1a1a1a" stroke-width="1.1"/>
<rect x="137.6" y="745.4" width="12.2" height="12.2" fill="none" stroke="#1a1a1a" stroke-width="1.1"/>
<rect x="144" y="724" width="6" height="8" fill="#888" opacity="0.7"/>
<line x1="147.2" y1="720" x2="147.2" y2="738" stroke="#1a1a1a" stroke-width="1" stroke-linecap="butt"/>
<line x1="145.2" y1="720" x2="149.2" y2="720" stroke="#1a1a1a" stroke-width="1" stroke-linecap="butt"/>
<line x1="145.2" y1="738" x2="149.2" y2="738" stroke="#1a1a1a" stroke-width="1" stroke-linecap="butt"/>
<polyline points="128.6,639.2 128.6,616 147.5,616 147.5,693" fill="none" stroke="#222" stroke-width="1"/>
<circle cx="135.75" cy="610.2" r="1.15" fill="#1a1a1a"/>
<circle cx="140.05" cy="610.2" r="1.15" fill="#1a1a1a"/>
<line x1="209.5" y1="617.6" x2="209.5" y2="762" stroke="#333" stroke-width="1.1" stroke-linecap="butt"/>
<line x1="206.5" y1="746.9" x2="209.5" y2="746.9" stroke="#333" stroke-width="1" stroke-linecap="butt"/>
<text x="0" y="0" transform="translate(203.5 750.09)" font-size="8.9" text-anchor="end" font-weight="normal" fill="#222" stroke="#222" stroke-width="0.15">0.5</text>
<line x1="206.5" y1="721.6" x2="209.5" y2="721.6" stroke="#333" stroke-width="1" stroke-linecap="butt"/>
<text x="0" y="0" transform="translate(203.5 724.79)" font-size="8.9" text-anchor="end" font-weight="normal" fill="#222" stroke="#222" stroke-width="0.15">1.0</text>
<line x1="206.5" y1="696.3" x2="209.5" y2="696.3" stroke="#333" stroke-width="1" stroke-linecap="butt"/>
<text x="0" y="0" transform="translate(203.5 699.49)" font-size="8.9" text-anchor="end" font-weight="normal" fill="#222" stroke="#222" stroke-width="0.15">1.5</text>
<line x1="206.5" y1="671" x2="209.5" y2="671" stroke="#333" stroke-width="1" stroke-linecap="butt"/>
<text x="0" y="0" transform="translate(203.5 674.19)" font-size="8.9" text-anchor="end" font-weight="normal" fill="#222" stroke="#222" stroke-width="0.15">2.0</text>
<line x1="206.5" y1="645.7" x2="209.5" y2="645.7" stroke="#333" stroke-width="1" stroke-linecap="butt"/>
<text x="0" y="0" transform="translate(203.5 648.89)" font-size="8.9" text-anchor="end" font-weight="normal" fill="#222" stroke="#222" stroke-width="0.15">2.5</text>
<line x1="206.5" y1="620.4" x2="209.5" y2="620.4" stroke="#333" stroke-width="1" stroke-linecap="butt"/>
<text x="0" y="0" transform="translate(203.5 623.59)" font-size="8.9" text-anchor="end" font-weight="normal" fill="#222" stroke="#222" stroke-width="0.15">3.0</text>
<line x1="209.5" y1="762" x2="295.7" y2="762" stroke="#333" stroke-width="1.1" stroke-linecap="butt"/>
<line x1="231" y1="762" x2="231" y2="765" stroke="#333" stroke-width="1" stroke-linecap="butt"/>
<line x1="272.8" y1="762" x2="272.8" y2="765" stroke="#333" stroke-width="1" stroke-linecap="butt"/>
<text x="0" y="0" transform="translate(231 775.9)" font-size="8.8" text-anchor="middle" font-weight="normal" fill="#222" stroke="#222" stroke-width="0.15" textLength="26.8" lengthAdjust="spacingAndGlyphs">IL2-NK</text>
<text x="0" y="0" transform="translate(272.8 775.9)" font-size="8.8" text-anchor="middle" font-weight="normal" fill="#222" stroke="#222" stroke-width="0.15" textLength="31.2" lengthAdjust="spacingAndGlyphs">IL15-NK</text>
<line x1="210" y1="721.6" x2="302.7" y2="721.6" stroke="#222" stroke-width="1.1" stroke-dasharray="2.2,1.8" stroke-linecap="butt"/>
<circle cx="222.7" cy="721.9" r="6.2" fill="#111" stroke="#111" stroke-width="0.8"/>
<rect x="232.6" y="673.8" width="12.4" height="12.4" fill="none" stroke="#1a1a1a" stroke-width="1.1"/>
<rect x="230.9" y="709.1" width="12.4" height="12.4" fill="none" stroke="#1a1a1a" stroke-width="1.1"/>
<rect x="236.9" y="709.6" width="12.4" height="12.4" fill="none" stroke="#1a1a1a" stroke-width="1.1"/>
<rect x="224" y="717.4" width="12.4" height="12.4" fill="none" stroke="#1a1a1a" stroke-width="1.1"/>
<rect x="242.1" y="717.4" width="12.4" height="12.4" fill="none" stroke="#1a1a1a" stroke-width="1.1"/>
<rect x="232.6" y="719.2" width="12.4" height="12.4" fill="none" stroke="#1a1a1a" stroke-width="1.1"/>
<rect x="233.5" y="714.8" width="12.4" height="12.4" fill="none" stroke="#1a1a1a" stroke-width="1.1"/>
<rect x="229.2" y="715.7" width="12.4" height="12.4" fill="none" stroke="#1a1a1a" stroke-width="1.1"/>
<rect x="232.6" y="739.9" width="12.4" height="12.4" fill="none" stroke="#1a1a1a" stroke-width="1.1"/>
<rect x="236" y="716" width="6" height="10" fill="#888" opacity="0.7"/>
<line x1="238.8" y1="701.5" x2="238.8" y2="738.3" stroke="#1a1a1a" stroke-width="1" stroke-linecap="butt"/>
<line x1="236.3" y1="701.5" x2="241.3" y2="701.5" stroke="#1a1a1a" stroke-width="1" stroke-linecap="butt"/>
<line x1="236.3" y1="738.3" x2="241.3" y2="738.3" stroke="#1a1a1a" stroke-width="1" stroke-linecap="butt"/>
<circle cx="256.2" cy="649.2" r="6.3" fill="none" stroke="#1a1a1a" stroke-width="1.12"/>
<circle cx="267.6" cy="651.3" r="6.3" fill="none" stroke="#1a1a1a" stroke-width="1.12"/>
<circle cx="264.8" cy="676.6" r="6.3" fill="none" stroke="#1a1a1a" stroke-width="1.12"/>
<circle cx="256.1" cy="694.2" r="6.3" fill="none" stroke="#1a1a1a" stroke-width="1.12"/>
<circle cx="264.8" cy="695.1" r="6.3" fill="none" stroke="#1a1a1a" stroke-width="1.12"/>
<circle cx="273.9" cy="692.1" r="6.3" fill="none" stroke="#1a1a1a" stroke-width="1.12"/>
<circle cx="273.4" cy="706.7" r="6.3" fill="none" stroke="#1a1a1a" stroke-width="1.12"/>
<circle cx="262.5" cy="721.9" r="6.3" fill="none" stroke="#1a1a1a" stroke-width="1.12"/>
<line x1="265.7" y1="660.6" x2="265.7" y2="711.5" stroke="#1a1a1a" stroke-width="1" stroke-linecap="butt"/>
<line x1="263.2" y1="660.6" x2="268.2" y2="660.6" stroke="#1a1a1a" stroke-width="1" stroke-linecap="butt"/>
<line x1="263.2" y1="711.5" x2="268.2" y2="711.5" stroke="#1a1a1a" stroke-width="1" stroke-linecap="butt"/>
<line x1="260.4" y1="685.9" x2="270.8" y2="685.9" stroke="#222" stroke-width="1.1" stroke-linecap="butt"/>
<rect x="275" y="673.8" width="12.4" height="12.4" fill="none" stroke="#1a1a1a" stroke-width="1.1"/>
<rect x="284.5" y="676.3" width="12.4" height="12.4" fill="none" stroke="#1a1a1a" stroke-width="1.1"/>
<rect x="275" y="691.5" width="12.4" height="12.4" fill="none" stroke="#1a1a1a" stroke-width="1.1"/>
<rect x="279.3" y="698.4" width="12.4" height="12.4" fill="none" stroke="#1a1a1a" stroke-width="1.1"/>
<rect x="283.7" y="701.9" width="12.4" height="12.4" fill="none" stroke="#1a1a1a" stroke-width="1.1"/>
<rect x="276.7" y="700.1" width="12.4" height="12.4" fill="none" stroke="#1a1a1a" stroke-width="1.1"/>
<rect x="274.1" y="716.6" width="12.4" height="12.4" fill="none" stroke="#1a1a1a" stroke-width="1.1"/>
<line x1="284.5" y1="694" x2="284.5" y2="712" stroke="#333" stroke-width="1" stroke-linecap="butt"/>
<polyline points="238.5,664.1 238.5,617 283,617 283,664.1" fill="none" stroke="#222" stroke-width="1"/>
<circle cx="258.65" cy="611.4" r="1.15" fill="#1a1a1a"/>
<circle cx="262.95" cy="611.4" r="1.15" fill="#1a1a1a"/>
<line x1="336.8" y1="616.7" x2="336.8" y2="762.6" stroke="#333" stroke-width="1.1" stroke-linecap="butt"/>
<line x1="333.8" y1="725.7" x2="336.8" y2="725.7" stroke="#333" stroke-width="1" stroke-linecap="butt"/>
<text x="0" y="0" transform="translate(330.8 728.89)" font-size="8.9" text-anchor="end" font-weight="normal" fill="#222" stroke="#222" stroke-width="0.15">1.0</text>
<line x1="333.8" y1="672.95" x2="336.8" y2="672.95" stroke="#333" stroke-width="1" stroke-linecap="butt"/>
<text x="0" y="0" transform="translate(330.8 676.14)" font-size="8.9" text-anchor="end" font-weight="normal" fill="#222" stroke="#222" stroke-width="0.15">2.0</text>
<line x1="333.8" y1="620.2" x2="336.8" y2="620.2" stroke="#333" stroke-width="1" stroke-linecap="butt"/>
<text x="0" y="0" transform="translate(330.8 623.39)" font-size="8.9" text-anchor="end" font-weight="normal" fill="#222" stroke="#222" stroke-width="0.15">3.0</text>
<line x1="336.8" y1="762.6" x2="422.9" y2="762.6" stroke="#333" stroke-width="1.1" stroke-linecap="butt"/>
<line x1="357.8" y1="762.6" x2="357.8" y2="765.6" stroke="#333" stroke-width="1" stroke-linecap="butt"/>
<line x1="400" y1="762.6" x2="400" y2="765.6" stroke="#333" stroke-width="1" stroke-linecap="butt"/>
<text x="0" y="0" transform="translate(358.2 775.9)" font-size="8.8" text-anchor="middle" font-weight="normal" fill="#222" stroke="#222" stroke-width="0.15" textLength="26.8" lengthAdjust="spacingAndGlyphs">IL2-NK</text>
<text x="0" y="0" transform="translate(400.2 775.9)" font-size="8.8" text-anchor="middle" font-weight="normal" fill="#222" stroke="#222" stroke-width="0.15" textLength="31.2" lengthAdjust="spacingAndGlyphs">IL15-NK</text>
<line x1="337.3" y1="725.7" x2="431.5" y2="725.7" stroke="#222" stroke-width="1.1" stroke-dasharray="2.2,1.8" stroke-linecap="butt"/>
<circle cx="349.8" cy="725.6" r="6.2" fill="#111" stroke="#111" stroke-width="0.8"/>
<rect x="350.9" y="731.1" width="12.2" height="12.2" fill="none" stroke="#1a1a1a" stroke-width="1.1"/>
<rect x="356.1" y="725.9" width="12.2" height="12.2" fill="none" stroke="#1a1a1a" stroke-width="1.1"/>
<rect x="363" y="726.8" width="12.2" height="12.2" fill="none" stroke="#1a1a1a" stroke-width="1.1"/>
<rect x="369.1" y="732.8" width="12.2" height="12.2" fill="none" stroke="#1a1a1a" stroke-width="1.1"/>
<rect x="360.4" y="740.6" width="12.2" height="12.2" fill="none" stroke="#1a1a1a" stroke-width="1.1"/>
<rect x="359.6" y="729.4" width="12.2" height="12.2" fill="none" stroke="#1a1a1a" stroke-width="1.1"/>
<rect x="354.4" y="727.6" width="12.2" height="12.2" fill="none" stroke="#1a1a1a" stroke-width="1.1"/>
<rect x="362" y="731" width="7" height="9" fill="#888" opacity="0.7"/>
<line x1="365.7" y1="728" x2="365.7" y2="742" stroke="#333" stroke-width="1" stroke-linecap="butt"/>
<circle cx="392.6" cy="640.4" r="6.3" fill="none" stroke="#1a1a1a" stroke-width="1.12"/>
<circle cx="388.6" cy="685.2" r="6.3" fill="none" stroke="#1a1a1a" stroke-width="1.12"/>
<circle cx="383.3" cy="695.8" r="6.3" fill="none" stroke="#1a1a1a" stroke-width="1.12"/>
<circle cx="393.9" cy="699.3" r="6.3" fill="none" stroke="#1a1a1a" stroke-width="1.12"/>
<circle cx="401.8" cy="693.1" r="6.3" fill="none" stroke="#1a1a1a" stroke-width="1.12"/>
<circle cx="401.7" cy="713" r="6.3" fill="none" stroke="#1a1a1a" stroke-width="1.12"/>
<circle cx="389.9" cy="720.8" r="6.3" fill="none" stroke="#1a1a1a" stroke-width="1.12"/>
<line x1="393" y1="666.4" x2="393" y2="719.5" stroke="#1a1a1a" stroke-width="1" stroke-linecap="butt"/>
<line x1="391" y1="666.4" x2="395" y2="666.4" stroke="#1a1a1a" stroke-width="1" stroke-linecap="butt"/>
<line x1="391" y1="719.5" x2="395" y2="719.5" stroke="#1a1a1a" stroke-width="1" stroke-linecap="butt"/>
<line x1="387.5" y1="693.1" x2="398.5" y2="693.1" stroke="#222" stroke-width="1.1" stroke-linecap="butt"/>
<rect x="400.2" y="716.4" width="12.2" height="12.2" fill="none" stroke="#1a1a1a" stroke-width="1.1"/>
<rect x="393.3" y="729.4" width="12.2" height="12.2" fill="none" stroke="#1a1a1a" stroke-width="1.1"/>
<rect x="411.5" y="729.4" width="12.2" height="12.2" fill="none" stroke="#1a1a1a" stroke-width="1.1"/>
<rect x="402.8" y="730.2" width="12.2" height="12.2" fill="none" stroke="#1a1a1a" stroke-width="1.1"/>
<rect x="404.6" y="721.6" width="12.2" height="12.2" fill="none" stroke="#1a1a1a" stroke-width="1.1"/>
<rect x="398.5" y="722.4" width="12.2" height="12.2" fill="none" stroke="#1a1a1a" stroke-width="1.1"/>
<rect x="405.4" y="725.9" width="12.2" height="12.2" fill="none" stroke="#1a1a1a" stroke-width="1.1"/>
<rect x="405" y="727" width="7" height="9" fill="#888" opacity="0.6"/>
<line x1="408" y1="724" x2="408" y2="740" stroke="#333" stroke-width="1" stroke-linecap="butt"/>
<polyline points="387.4,621.1 387.4,606.7 407.9,606.7 407.9,673.8" fill="none" stroke="#222" stroke-width="1"/>
<circle cx="393.3" cy="601.4" r="1.15" fill="#1a1a1a"/>
<circle cx="397.6" cy="601.4" r="1.15" fill="#1a1a1a"/>
<circle cx="401.9" cy="601.4" r="1.15" fill="#1a1a1a"/>
<circle cx="444.7" cy="653.5" r="4.3" fill="none" stroke="#1a1a1a" stroke-width="1.1"/>
<text x="0" y="0" transform="translate(453 656.6)" font-size="8.4" text-anchor="start" font-weight="normal" fill="#222" stroke="#222" stroke-width="0.15" textLength="24.8" lengthAdjust="spacingAndGlyphs">DMSO</text>
<rect x="440.7" y="662.9" width="8.6" height="8.6" fill="none" stroke="#1a1a1a" stroke-width="1.1"/>
<text x="0" y="0" transform="translate(453 670.3)" font-size="8.4" text-anchor="start" font-weight="normal" fill="#222" stroke="#222" stroke-width="0.15" textLength="25" lengthAdjust="spacingAndGlyphs">Torin-1</text>
<text x="0" y="0" transform="translate(25.6 806.1)" font-size="12.6" text-anchor="start" font-weight="bold" fill="#111" stroke="#111" stroke-width="0.2">D</text>
<text x="0" y="0" transform="translate(141.3 815.3)" font-size="10.1" text-anchor="start" font-weight="normal" fill="#222" stroke="#222" stroke-width="0.15" textLength="44" lengthAdjust="spacingAndGlyphs">Activated</text>
<line x1="141.3" y1="817.2" x2="185.5" y2="817.2" stroke="#333" stroke-width="0.9" stroke-linecap="butt"/>
<text x="0" y="0" transform="translate(348.9 815.6)" font-size="10.1" text-anchor="start" font-weight="normal" fill="#222" stroke="#222" stroke-width="0.15" textLength="96" lengthAdjust="spacingAndGlyphs">Cytokine withdrawal</text>
<line x1="348.9" y1="817.4" x2="445" y2="817.4" stroke="#333" stroke-width="0.9" stroke-linecap="butt"/>
<line x1="70.5" y1="986.2" x2="158.6" y2="986.2" stroke="#333" stroke-width="1.1" stroke-linecap="butt"/>
<line x1="81.7" y1="986.2" x2="81.7" y2="989.2" stroke="#333" stroke-width="1" stroke-linecap="butt"/>
<text x="0" y="0" transform="translate(87 995.6) rotate(-45)" font-size="8.6" text-anchor="end" font-weight="normal" fill="#222" stroke="#222" stroke-width="0.15">5:1</text>
<line x1="103.3" y1="986.2" x2="103.3" y2="989.2" stroke="#333" stroke-width="1" stroke-linecap="butt"/>
<text x="0" y="0" transform="translate(108.6 995.6) rotate(-45)" font-size="8.6" text-anchor="end" font-weight="normal" fill="#222" stroke="#222" stroke-width="0.15">2.5:1</text>
<line x1="125.1" y1="986.2" x2="125.1" y2="989.2" stroke="#333" stroke-width="1" stroke-linecap="butt"/>
<text x="0" y="0" transform="translate(130.4 995.6) rotate(-45)" font-size="8.6" text-anchor="end" font-weight="normal" fill="#222" stroke="#222" stroke-width="0.15">1.25:1</text>
<line x1="146.8" y1="986.2" x2="146.8" y2="989.2" stroke="#333" stroke-width="1" stroke-linecap="butt"/>
<text x="0" y="0" transform="translate(152.1 995.6) rotate(-45)" font-size="8.6" text-anchor="end" font-weight="normal" fill="#222" stroke="#222" stroke-width="0.15">0.625:1</text>
<text x="0" y="0" transform="translate(113.8 832.4)" font-size="8.8" text-anchor="middle" font-weight="normal" fill="#222" stroke="#222" stroke-width="0.15" textLength="25.5" lengthAdjust="spacingAndGlyphs">IL2-NK</text>
<line x1="70.5" y1="837.5" x2="70.5" y2="986.2" stroke="#333" stroke-width="1.1" stroke-linecap="butt"/>
<line x1="67.5" y1="986.2" x2="70.5" y2="986.2" stroke="#333" stroke-width="1" stroke-linecap="butt"/>
<text x="0" y="0" transform="translate(63.5 989.39)" font-size="8.9" text-anchor="end" font-weight="normal" fill="#222" stroke="#222" stroke-width="0.15">0</text>
<line x1="67.5" y1="937.46" x2="70.5" y2="937.46" stroke="#333" stroke-width="1" stroke-linecap="butt"/>
<text x="0" y="0" transform="translate(63.5 940.65)" font-size="8.9" text-anchor="end" font-weight="normal" fill="#222" stroke="#222" stroke-width="0.15">20</text>
<line x1="67.5" y1="888.72" x2="70.5" y2="888.72" stroke="#333" stroke-width="1" stroke-linecap="butt"/>
<text x="0" y="0" transform="translate(63.5 891.91)" font-size="8.9" text-anchor="end" font-weight="normal" fill="#222" stroke="#222" stroke-width="0.15">40</text>
<line x1="67.5" y1="839.98" x2="70.5" y2="839.98" stroke="#333" stroke-width="1" stroke-linecap="butt"/>
<text x="0" y="0" transform="translate(63.5 843.17)" font-size="8.9" text-anchor="end" font-weight="normal" fill="#222" stroke="#222" stroke-width="0.15">60</text>
<text x="0" y="0" transform="translate(47.9 912.1) rotate(-90)" font-size="10.2" text-anchor="middle" font-weight="normal" fill="#222" stroke="#222" stroke-width="0.15" textLength="55.2" lengthAdjust="spacingAndGlyphs">% lysis K562</text>
<polyline points="81.7,912.5 103.3,936.25 125.1,958 146.8,974.5" fill="none" stroke="#1a1a1a" stroke-width="1.45" stroke-dasharray="4.6,2.2" stroke-linejoin="round"/>
<polyline points="81.7,883.75 103.3,896.3 125.1,927.5 146.8,951.25" fill="none" stroke="#1a1a1a" stroke-width="1.45" stroke-linejoin="round"/>
<line x1="103.3" y1="888.8" x2="103.3" y2="903.8" stroke="#1a1a1a" stroke-width="1" stroke-linecap="butt"/>
<line x1="98.8" y1="888.8" x2="107.8" y2="888.8" stroke="#1a1a1a" stroke-width="1" stroke-linecap="butt"/>
<line x1="98.8" y1="903.8" x2="107.8" y2="903.8" stroke="#1a1a1a" stroke-width="1" stroke-linecap="butt"/>
<line x1="81.7" y1="879.2" x2="81.7" y2="888.4" stroke="#1a1a1a" stroke-width="1" stroke-linecap="butt"/>
<line x1="77.2" y1="879.2" x2="86.2" y2="879.2" stroke="#1a1a1a" stroke-width="1" stroke-linecap="butt"/>
<line x1="77.2" y1="888.4" x2="86.2" y2="888.4" stroke="#1a1a1a" stroke-width="1" stroke-linecap="butt"/>
<rect x="77.5" y="908.3" width="8.4" height="8.4" fill="#111" stroke="#111" stroke-width="0.6"/>
<rect x="99.1" y="932.05" width="8.4" height="8.4" fill="#111" stroke="#111" stroke-width="0.6"/>
<rect x="120.9" y="953.8" width="8.4" height="8.4" fill="#111" stroke="#111" stroke-width="0.6"/>
<rect x="142.6" y="970.3" width="8.4" height="8.4" fill="#111" stroke="#111" stroke-width="0.6"/>
<rect x="77.5" y="879.55" width="8.4" height="8.4" fill="none" stroke="#1a1a1a" stroke-width="1.4"/>
<rect x="99.1" y="892.1" width="8.4" height="8.4" fill="none" stroke="#1a1a1a" stroke-width="1.4"/>
<rect x="120.9" y="923.3" width="8.4" height="8.4" fill="none" stroke="#1a1a1a" stroke-width="1.4"/>
<rect x="142.6" y="947.05" width="8.4" height="8.4" fill="none" stroke="#1a1a1a" stroke-width="1.4"/>
<circle cx="77.6" cy="873.6" r="1.3" fill="#1a1a1a"/>
<circle cx="81.9" cy="873.6" r="1.3" fill="#1a1a1a"/>
<circle cx="86.2" cy="873.6" r="1.3" fill="#1a1a1a"/>
<circle cx="99.9" cy="882.4" r="1.3" fill="#1a1a1a"/>
<circle cx="104.2" cy="882.4" r="1.3" fill="#1a1a1a"/>
<circle cx="108.5" cy="882.4" r="1.3" fill="#1a1a1a"/>
<circle cx="125.45" cy="917.4" r="1.3" fill="#1a1a1a"/>
<circle cx="129.75" cy="917.4" r="1.3" fill="#1a1a1a"/>
<circle cx="134.05" cy="917.4" r="1.3" fill="#1a1a1a"/>
<circle cx="138.35" cy="917.4" r="1.3" fill="#1a1a1a"/>
<circle cx="147.4" cy="943" r="1.3" fill="#1a1a1a"/>
<circle cx="151.7" cy="943" r="1.3" fill="#1a1a1a"/>
<circle cx="156" cy="943" r="1.3" fill="#1a1a1a"/>
<line x1="167.3" y1="986.2" x2="256.2" y2="986.2" stroke="#333" stroke-width="1.1" stroke-linecap="butt"/>
<line x1="178.8" y1="986.2" x2="178.8" y2="989.2" stroke="#333" stroke-width="1" stroke-linecap="butt"/>
<text x="0" y="0" transform="translate(184.1 995.6) rotate(-45)" font-size="8.6" text-anchor="end" font-weight="normal" fill="#222" stroke="#222" stroke-width="0.15">5:1</text>
<line x1="200.8" y1="986.2" x2="200.8" y2="989.2" stroke="#333" stroke-width="1" stroke-linecap="butt"/>
<text x="0" y="0" transform="translate(206.1 995.6) rotate(-45)" font-size="8.6" text-anchor="end" font-weight="normal" fill="#222" stroke="#222" stroke-width="0.15">2.5:1</text>
<line x1="222.7" y1="986.2" x2="222.7" y2="989.2" stroke="#333" stroke-width="1" stroke-linecap="butt"/>
<text x="0" y="0" transform="translate(228 995.6) rotate(-45)" font-size="8.6" text-anchor="end" font-weight="normal" fill="#222" stroke="#222" stroke-width="0.15">1.25:1</text>
<line x1="244.6" y1="986.2" x2="244.6" y2="989.2" stroke="#333" stroke-width="1" stroke-linecap="butt"/>
<text x="0" y="0" transform="translate(249.9 995.6) rotate(-45)" font-size="8.6" text-anchor="end" font-weight="normal" fill="#222" stroke="#222" stroke-width="0.15">0.625:1</text>
<text x="0" y="0" transform="translate(211.2 832.4)" font-size="8.8" text-anchor="middle" font-weight="normal" fill="#222" stroke="#222" stroke-width="0.15" textLength="29.5" lengthAdjust="spacingAndGlyphs">IL15-NK</text>
<polyline points="178.8,863.5 200.8,875.7 222.7,926.9 244.6,950" fill="none" stroke="#1a1a1a" stroke-width="1.45" stroke-dasharray="4.6,2.2" stroke-linejoin="round"/>
<polyline points="178.8,853.1 200.8,858.8 222.7,882.6 244.6,906.6" fill="none" stroke="#1a1a1a" stroke-width="1.45" stroke-linejoin="round"/>
<line x1="178.8" y1="853.2" x2="178.8" y2="873.8" stroke="#1a1a1a" stroke-width="1" stroke-linecap="butt"/>
<line x1="174.3" y1="853.2" x2="183.3" y2="853.2" stroke="#1a1a1a" stroke-width="1" stroke-linecap="butt"/>
<line x1="174.3" y1="873.8" x2="183.3" y2="873.8" stroke="#1a1a1a" stroke-width="1" stroke-linecap="butt"/>
<line x1="200.8" y1="870" x2="200.8" y2="881.5" stroke="#1a1a1a" stroke-width="1" stroke-linecap="butt"/>
<line x1="196.3" y1="870" x2="205.3" y2="870" stroke="#1a1a1a" stroke-width="1" stroke-linecap="butt"/>
<line x1="196.3" y1="881.5" x2="205.3" y2="881.5" stroke="#1a1a1a" stroke-width="1" stroke-linecap="butt"/>
<line x1="222.7" y1="913.5" x2="222.7" y2="940.3" stroke="#1a1a1a" stroke-width="1" stroke-linecap="butt"/>
<line x1="218.2" y1="913.5" x2="227.2" y2="913.5" stroke="#1a1a1a" stroke-width="1" stroke-linecap="butt"/>
<line x1="218.2" y1="940.3" x2="227.2" y2="940.3" stroke="#1a1a1a" stroke-width="1" stroke-linecap="butt"/>
<line x1="244.6" y1="947" x2="244.6" y2="953" stroke="#1a1a1a" stroke-width="1" stroke-linecap="butt"/>
<line x1="240.1" y1="947" x2="249.1" y2="947" stroke="#1a1a1a" stroke-width="1" stroke-linecap="butt"/>
<line x1="240.1" y1="953" x2="249.1" y2="953" stroke="#1a1a1a" stroke-width="1" stroke-linecap="butt"/>
<line x1="178.8" y1="843.4" x2="178.8" y2="862.8" stroke="#1a1a1a" stroke-width="1" stroke-linecap="butt"/>
<line x1="174.3" y1="843.4" x2="183.3" y2="843.4" stroke="#1a1a1a" stroke-width="1" stroke-linecap="butt"/>
<line x1="174.3" y1="862.8" x2="183.3" y2="862.8" stroke="#1a1a1a" stroke-width="1" stroke-linecap="butt"/>
<line x1="200.8" y1="850.3" x2="200.8" y2="868" stroke="#1a1a1a" stroke-width="1" stroke-linecap="butt"/>
<line x1="196.3" y1="850.3" x2="205.3" y2="850.3" stroke="#1a1a1a" stroke-width="1" stroke-linecap="butt"/>
<line x1="196.3" y1="868" x2="205.3" y2="868" stroke="#1a1a1a" stroke-width="1" stroke-linecap="butt"/>
<line x1="222.7" y1="871" x2="222.7" y2="895" stroke="#1a1a1a" stroke-width="1" stroke-linecap="butt"/>
<line x1="218.2" y1="871" x2="227.2" y2="871" stroke="#1a1a1a" stroke-width="1" stroke-linecap="butt"/>
<line x1="218.2" y1="895" x2="227.2" y2="895" stroke="#1a1a1a" stroke-width="1" stroke-linecap="butt"/>
<line x1="244.6" y1="898.8" x2="244.6" y2="914.2" stroke="#1a1a1a" stroke-width="1" stroke-linecap="butt"/>
<line x1="240.1" y1="898.8" x2="249.1" y2="898.8" stroke="#1a1a1a" stroke-width="1" stroke-linecap="butt"/>
<line x1="240.1" y1="914.2" x2="249.1" y2="914.2" stroke="#1a1a1a" stroke-width="1" stroke-linecap="butt"/>
<rect x="174.6" y="859.3" width="8.4" height="8.4" fill="#111" stroke="#111" stroke-width="0.6"/>
<rect x="196.6" y="871.5" width="8.4" height="8.4" fill="#111" stroke="#111" stroke-width="0.6"/>
<rect x="218.5" y="922.7" width="8.4" height="8.4" fill="#111" stroke="#111" stroke-width="0.6"/>
<rect x="240.4" y="945.8" width="8.4" height="8.4" fill="#111" stroke="#111" stroke-width="0.6"/>
<rect x="174.6" y="848.9" width="8.4" height="8.4" fill="none" stroke="#1a1a1a" stroke-width="1.4"/>
<rect x="196.6" y="854.6" width="8.4" height="8.4" fill="none" stroke="#1a1a1a" stroke-width="1.4"/>
<rect x="218.5" y="878.4" width="8.4" height="8.4" fill="none" stroke="#1a1a1a" stroke-width="1.4"/>
<rect x="240.4" y="902.4" width="8.4" height="8.4" fill="none" stroke="#1a1a1a" stroke-width="1.4"/>
<text x="0" y="0" transform="translate(178.8 839.6)" font-size="8.4" text-anchor="middle" font-weight="normal" fill="#222" stroke="#222" stroke-width="0.15" textLength="11.2" lengthAdjust="spacingAndGlyphs">n.s</text>
<text x="0" y="0" transform="translate(200.8 846.5)" font-size="8.4" text-anchor="middle" font-weight="normal" fill="#222" stroke="#222" stroke-width="0.15" textLength="11.2" lengthAdjust="spacingAndGlyphs">n.s</text>
<circle cx="225.15" cy="865.8" r="1.3" fill="#1a1a1a"/>
<circle cx="229.45" cy="865.8" r="1.3" fill="#1a1a1a"/>
<circle cx="246.1" cy="894.2" r="1.3" fill="#1a1a1a"/>
<circle cx="250.4" cy="894.2" r="1.3" fill="#1a1a1a"/>
<circle cx="254.7" cy="894.2" r="1.3" fill="#1a1a1a"/>
<line x1="302.9" y1="986.2" x2="391.3" y2="986.2" stroke="#333" stroke-width="1.1" stroke-linecap="butt"/>
<line x1="313.8" y1="986.2" x2="313.8" y2="989.2" stroke="#333" stroke-width="1" stroke-linecap="butt"/>
<text x="0" y="0" transform="translate(319.1 995.6) rotate(-45)" font-size="8.6" text-anchor="end" font-weight="normal" fill="#222" stroke="#222" stroke-width="0.15">5:1</text>
<line x1="335.5" y1="986.2" x2="335.5" y2="989.2" stroke="#333" stroke-width="1" stroke-linecap="butt"/>
<text x="0" y="0" transform="translate(340.8 995.6) rotate(-45)" font-size="8.6" text-anchor="end" font-weight="normal" fill="#222" stroke="#222" stroke-width="0.15">2.5:1</text>
<line x1="357.1" y1="986.2" x2="357.1" y2="989.2" stroke="#333" stroke-width="1" stroke-linecap="butt"/>
<text x="0" y="0" transform="translate(362.4 995.6) rotate(-45)" font-size="8.6" text-anchor="end" font-weight="normal" fill="#222" stroke="#222" stroke-width="0.15">1.25:1</text>
<line x1="379.2" y1="986.2" x2="379.2" y2="989.2" stroke="#333" stroke-width="1" stroke-linecap="butt"/>
<text x="0" y="0" transform="translate(384.5 995.6) rotate(-45)" font-size="8.6" text-anchor="end" font-weight="normal" fill="#222" stroke="#222" stroke-width="0.15">0.625:1</text>
<text x="0" y="0" transform="translate(344.2 832.4)" font-size="8.8" text-anchor="middle" font-weight="normal" fill="#222" stroke="#222" stroke-width="0.15" textLength="25.5" lengthAdjust="spacingAndGlyphs">IL2-NK</text>
<line x1="302.9" y1="837.5" x2="302.9" y2="986.2" stroke="#333" stroke-width="1.1" stroke-linecap="butt"/>
<line x1="299.9" y1="986.2" x2="302.9" y2="986.2" stroke="#333" stroke-width="1" stroke-linecap="butt"/>
<text x="0" y="0" transform="translate(295.9 989.39)" font-size="8.9" text-anchor="end" font-weight="normal" fill="#222" stroke="#222" stroke-width="0.15">0</text>
<line x1="299.9" y1="937.46" x2="302.9" y2="937.46" stroke="#333" stroke-width="1" stroke-linecap="butt"/>
<text x="0" y="0" transform="translate(295.9 940.65)" font-size="8.9" text-anchor="end" font-weight="normal" fill="#222" stroke="#222" stroke-width="0.15">20</text>
<line x1="299.9" y1="888.72" x2="302.9" y2="888.72" stroke="#333" stroke-width="1" stroke-linecap="butt"/>
<text x="0" y="0" transform="translate(295.9 891.91)" font-size="8.9" text-anchor="end" font-weight="normal" fill="#222" stroke="#222" stroke-width="0.15">40</text>
<line x1="299.9" y1="839.98" x2="302.9" y2="839.98" stroke="#333" stroke-width="1" stroke-linecap="butt"/>
<text x="0" y="0" transform="translate(295.9 843.17)" font-size="8.9" text-anchor="end" font-weight="normal" fill="#222" stroke="#222" stroke-width="0.15">60</text>
<text x="0" y="0" transform="translate(281.4 911.4) rotate(-90)" font-size="10.2" text-anchor="middle" font-weight="normal" fill="#222" stroke="#222" stroke-width="0.15" textLength="55.2" lengthAdjust="spacingAndGlyphs">% lysis K562</text>
<polyline points="313.8,919.6 335.5,944.4 357.1,964.4 379.2,976.8" fill="none" stroke="#1a1a1a" stroke-width="1.45" stroke-dasharray="4.6,2.2" stroke-linejoin="round"/>
<polyline points="313.8,908 335.5,926.25 357.1,952.5 379.2,968.75" fill="none" stroke="#1a1a1a" stroke-width="1.45" stroke-linejoin="round"/>
<line x1="313.8" y1="912" x2="313.8" y2="925.5" stroke="#1a1a1a" stroke-width="1" stroke-linecap="butt"/>
<line x1="308.3" y1="912" x2="319.3" y2="912" stroke="#1a1a1a" stroke-width="1" stroke-linecap="butt"/>
<line x1="308.3" y1="925.5" x2="319.3" y2="925.5" stroke="#1a1a1a" stroke-width="1" stroke-linecap="butt"/>
<line x1="335.5" y1="935.5" x2="335.5" y2="952" stroke="#1a1a1a" stroke-width="1" stroke-linecap="butt"/>
<line x1="330" y1="935.5" x2="341" y2="935.5" stroke="#1a1a1a" stroke-width="1" stroke-linecap="butt"/>
<line x1="330" y1="952" x2="341" y2="952" stroke="#1a1a1a" stroke-width="1" stroke-linecap="butt"/>
<line x1="357.1" y1="958.5" x2="357.1" y2="968.5" stroke="#1a1a1a" stroke-width="1" stroke-linecap="butt"/>
<line x1="351.6" y1="958.5" x2="362.6" y2="958.5" stroke="#1a1a1a" stroke-width="1" stroke-linecap="butt"/>
<line x1="351.6" y1="968.5" x2="362.6" y2="968.5" stroke="#1a1a1a" stroke-width="1" stroke-linecap="butt"/>
<line x1="379.2" y1="973" x2="379.2" y2="979.5" stroke="#1a1a1a" stroke-width="1" stroke-linecap="butt"/>
<line x1="373.7" y1="973" x2="384.7" y2="973" stroke="#1a1a1a" stroke-width="1" stroke-linecap="butt"/>
<line x1="373.7" y1="979.5" x2="384.7" y2="979.5" stroke="#1a1a1a" stroke-width="1" stroke-linecap="butt"/>
<line x1="313.8" y1="901.25" x2="313.8" y2="914.75" stroke="#1a1a1a" stroke-width="1" stroke-linecap="butt"/>
<line x1="308.3" y1="901.25" x2="319.3" y2="901.25" stroke="#1a1a1a" stroke-width="1" stroke-linecap="butt"/>
<line x1="308.3" y1="914.75" x2="319.3" y2="914.75" stroke="#1a1a1a" stroke-width="1" stroke-linecap="butt"/>
<line x1="335.5" y1="916.25" x2="335.5" y2="936.25" stroke="#1a1a1a" stroke-width="1" stroke-linecap="butt"/>
<line x1="330" y1="916.25" x2="341" y2="916.25" stroke="#1a1a1a" stroke-width="1" stroke-linecap="butt"/>
<line x1="330" y1="936.25" x2="341" y2="936.25" stroke="#1a1a1a" stroke-width="1" stroke-linecap="butt"/>
<line x1="357.1" y1="943" x2="357.1" y2="962" stroke="#1a1a1a" stroke-width="1" stroke-linecap="butt"/>
<line x1="351.6" y1="943" x2="362.6" y2="943" stroke="#1a1a1a" stroke-width="1" stroke-linecap="butt"/>
<line x1="351.6" y1="962" x2="362.6" y2="962" stroke="#1a1a1a" stroke-width="1" stroke-linecap="butt"/>
<line x1="379.2" y1="963" x2="379.2" y2="974.5" stroke="#1a1a1a" stroke-width="1" stroke-linecap="butt"/>
<line x1="373.7" y1="963" x2="384.7" y2="963" stroke="#1a1a1a" stroke-width="1" stroke-linecap="butt"/>
<line x1="373.7" y1="974.5" x2="384.7" y2="974.5" stroke="#1a1a1a" stroke-width="1" stroke-linecap="butt"/>
<polygon points="313.8,913.26 319.3,923.82 308.3,923.82" fill="#111" stroke="#111" stroke-width="0.6" stroke-linejoin="miter"/>
<polygon points="335.5,938.06 341,948.62 330,948.62" fill="#111" stroke="#111" stroke-width="0.6" stroke-linejoin="miter"/>
<polygon points="357.1,958.06 362.6,968.62 351.6,968.62" fill="#111" stroke="#111" stroke-width="0.6" stroke-linejoin="miter"/>
<polygon points="379.2,970.46 384.7,981.02 373.7,981.02" fill="#111" stroke="#111" stroke-width="0.6" stroke-linejoin="miter"/>
<polygon points="313.8,901.66 319.3,912.22 308.3,912.22" fill="none" stroke="#1a1a1a" stroke-width="1.3" stroke-linejoin="miter"/>
<polygon points="335.5,919.91 341,930.47 330,930.47" fill="none" stroke="#1a1a1a" stroke-width="1.3" stroke-linejoin="miter"/>
<polygon points="357.1,946.16 362.6,956.72 351.6,956.72" fill="none" stroke="#1a1a1a" stroke-width="1.3" stroke-linejoin="miter"/>
<polygon points="379.2,962.41 384.7,972.97 373.7,972.97" fill="none" stroke="#1a1a1a" stroke-width="1.3" stroke-linejoin="miter"/>
<text x="0" y="0" transform="translate(313.8 896.6)" font-size="8.4" text-anchor="middle" font-weight="normal" fill="#222" stroke="#222" stroke-width="0.15" textLength="11.2" lengthAdjust="spacingAndGlyphs">n.s</text>
<text x="0" y="0" transform="translate(335.5 912.3)" font-size="8.4" text-anchor="middle" font-weight="normal" fill="#222" stroke="#222" stroke-width="0.15" textLength="11.2" lengthAdjust="spacingAndGlyphs">n.s</text>
<line x1="401.5" y1="986.2" x2="491.5" y2="986.2" stroke="#333" stroke-width="1.1" stroke-linecap="butt"/>
<line x1="413.8" y1="986.2" x2="413.8" y2="989.2" stroke="#333" stroke-width="1" stroke-linecap="butt"/>
<text x="0" y="0" transform="translate(419.1 995.6) rotate(-45)" font-size="8.6" text-anchor="end" font-weight="normal" fill="#222" stroke="#222" stroke-width="0.15">5:1</text>
<line x1="435.5" y1="986.2" x2="435.5" y2="989.2" stroke="#333" stroke-width="1" stroke-linecap="butt"/>
<text x="0" y="0" transform="translate(440.8 995.6) rotate(-45)" font-size="8.6" text-anchor="end" font-weight="normal" fill="#222" stroke="#222" stroke-width="0.15">2.5:1</text>
<line x1="456.9" y1="986.2" x2="456.9" y2="989.2" stroke="#333" stroke-width="1" stroke-linecap="butt"/>
<text x="0" y="0" transform="translate(462.2 995.6) rotate(-45)" font-size="8.6" text-anchor="end" font-weight="normal" fill="#222" stroke="#222" stroke-width="0.15">1.25:1</text>
<line x1="478.9" y1="986.2" x2="478.9" y2="989.2" stroke="#333" stroke-width="1" stroke-linecap="butt"/>
<text x="0" y="0" transform="translate(484.2 995.6) rotate(-45)" font-size="8.6" text-anchor="end" font-weight="normal" fill="#222" stroke="#222" stroke-width="0.15">0.625:1</text>
<text x="0" y="0" transform="translate(446.5 832.4)" font-size="8.8" text-anchor="middle" font-weight="normal" fill="#222" stroke="#222" stroke-width="0.15" textLength="29.5" lengthAdjust="spacingAndGlyphs">IL15-NK</text>
<polyline points="413.8,907.2 435.5,926.6 456.9,950.4 478.9,967.7" fill="none" stroke="#9a9a9a" stroke-width="1.45" stroke-linejoin="round"/>
<line x1="413.8" y1="901.2" x2="413.8" y2="913" stroke="#9a9a9a" stroke-width="1.2" stroke-linecap="butt"/>
<line x1="408.8" y1="901.2" x2="418.8" y2="901.2" stroke="#9a9a9a" stroke-width="1.2" stroke-linecap="butt"/>
<line x1="408.8" y1="913" x2="418.8" y2="913" stroke="#9a9a9a" stroke-width="1.2" stroke-linecap="butt"/>
<line x1="435.5" y1="917" x2="435.5" y2="935.4" stroke="#9a9a9a" stroke-width="1.2" stroke-linecap="butt"/>
<line x1="430.5" y1="917" x2="440.5" y2="917" stroke="#9a9a9a" stroke-width="1.2" stroke-linecap="butt"/>
<line x1="430.5" y1="935.4" x2="440.5" y2="935.4" stroke="#9a9a9a" stroke-width="1.2" stroke-linecap="butt"/>
<line x1="456.9" y1="943.5" x2="456.9" y2="958" stroke="#9a9a9a" stroke-width="1.2" stroke-linecap="butt"/>
<line x1="451.9" y1="943.5" x2="461.9" y2="943.5" stroke="#9a9a9a" stroke-width="1.2" stroke-linecap="butt"/>
<line x1="451.9" y1="958" x2="461.9" y2="958" stroke="#9a9a9a" stroke-width="1.2" stroke-linecap="butt"/>
<line x1="478.9" y1="960" x2="478.9" y2="972" stroke="#9a9a9a" stroke-width="1.2" stroke-linecap="butt"/>
<line x1="473.9" y1="960" x2="483.9" y2="960" stroke="#9a9a9a" stroke-width="1.2" stroke-linecap="butt"/>
<line x1="473.9" y1="972" x2="483.9" y2="972" stroke="#9a9a9a" stroke-width="1.2" stroke-linecap="butt"/>
<polygon points="413.8,900.86 419.3,911.42 408.3,911.42" fill="none" stroke="#9a9a9a" stroke-width="1.3" stroke-linejoin="miter"/>
<polygon points="435.5,920.26 441,930.82 430,930.82" fill="none" stroke="#9a9a9a" stroke-width="1.3" stroke-linejoin="miter"/>
<polygon points="456.9,944.06 462.4,954.62 451.4,954.62" fill="none" stroke="#9a9a9a" stroke-width="1.3" stroke-linejoin="miter"/>
<polygon points="478.9,961.36 484.4,971.92 473.4,971.92" fill="none" stroke="#9a9a9a" stroke-width="1.3" stroke-linejoin="miter"/>
<polyline points="413.8,889.2 435.5,908.9 456.9,935.9 478.9,963.1" fill="none" stroke="#1a1a1a" stroke-width="1.45" stroke-dasharray="4.6,2.2" stroke-linejoin="round"/>
<polyline points="413.8,853.5 435.5,874.7 456.9,898.9 478.9,926.6" fill="none" stroke="#1a1a1a" stroke-width="1.45" stroke-linejoin="round"/>
<line x1="413.8" y1="885" x2="413.8" y2="893" stroke="#1a1a1a" stroke-width="1" stroke-linecap="butt"/>
<line x1="409.3" y1="885" x2="418.3" y2="885" stroke="#1a1a1a" stroke-width="1" stroke-linecap="butt"/>
<line x1="409.3" y1="893" x2="418.3" y2="893" stroke="#1a1a1a" stroke-width="1" stroke-linecap="butt"/>
<line x1="435.5" y1="905" x2="435.5" y2="912" stroke="#1a1a1a" stroke-width="1" stroke-linecap="butt"/>
<line x1="431" y1="905" x2="440" y2="905" stroke="#1a1a1a" stroke-width="1" stroke-linecap="butt"/>
<line x1="431" y1="912" x2="440" y2="912" stroke="#1a1a1a" stroke-width="1" stroke-linecap="butt"/>
<line x1="456.9" y1="932" x2="456.9" y2="940" stroke="#1a1a1a" stroke-width="1" stroke-linecap="butt"/>
<line x1="452.4" y1="932" x2="461.4" y2="932" stroke="#1a1a1a" stroke-width="1" stroke-linecap="butt"/>
<line x1="452.4" y1="940" x2="461.4" y2="940" stroke="#1a1a1a" stroke-width="1" stroke-linecap="butt"/>
<line x1="478.9" y1="958" x2="478.9" y2="968" stroke="#1a1a1a" stroke-width="1" stroke-linecap="butt"/>
<line x1="474.4" y1="958" x2="483.4" y2="958" stroke="#1a1a1a" stroke-width="1" stroke-linecap="butt"/>
<line x1="474.4" y1="968" x2="483.4" y2="968" stroke="#1a1a1a" stroke-width="1" stroke-linecap="butt"/>
<line x1="413.8" y1="844.2" x2="413.8" y2="862.5" stroke="#1a1a1a" stroke-width="1" stroke-linecap="butt"/>
<line x1="408.8" y1="844.2" x2="418.8" y2="844.2" stroke="#1a1a1a" stroke-width="1" stroke-linecap="butt"/>
<line x1="408.8" y1="862.5" x2="418.8" y2="862.5" stroke="#1a1a1a" stroke-width="1" stroke-linecap="butt"/>
<line x1="435.5" y1="864.3" x2="435.5" y2="884" stroke="#1a1a1a" stroke-width="1" stroke-linecap="butt"/>
<line x1="430.5" y1="864.3" x2="440.5" y2="864.3" stroke="#1a1a1a" stroke-width="1" stroke-linecap="butt"/>
<line x1="430.5" y1="884" x2="440.5" y2="884" stroke="#1a1a1a" stroke-width="1" stroke-linecap="butt"/>
<line x1="456.9" y1="892" x2="456.9" y2="905.5" stroke="#1a1a1a" stroke-width="1" stroke-linecap="butt"/>
<line x1="451.9" y1="892" x2="461.9" y2="892" stroke="#1a1a1a" stroke-width="1" stroke-linecap="butt"/>
<line x1="451.9" y1="905.5" x2="461.9" y2="905.5" stroke="#1a1a1a" stroke-width="1" stroke-linecap="butt"/>
<line x1="478.9" y1="922" x2="478.9" y2="931" stroke="#1a1a1a" stroke-width="1" stroke-linecap="butt"/>
<line x1="473.9" y1="922" x2="483.9" y2="922" stroke="#1a1a1a" stroke-width="1" stroke-linecap="butt"/>
<line x1="473.9" y1="931" x2="483.9" y2="931" stroke="#1a1a1a" stroke-width="1" stroke-linecap="butt"/>
<circle cx="413.8" cy="889.2" r="4.6" fill="#111" stroke="#111" stroke-width="0.6"/>
<circle cx="435.5" cy="908.9" r="4.6" fill="#111" stroke="#111" stroke-width="0.6"/>
<circle cx="456.9" cy="935.9" r="4.6" fill="#111" stroke="#111" stroke-width="0.6"/>
<circle cx="478.9" cy="963.1" r="4.6" fill="#111" stroke="#111" stroke-width="0.6"/>
<circle cx="413.8" cy="853.5" r="4.7" fill="none" stroke="#1a1a1a" stroke-width="1.35"/>
<circle cx="435.5" cy="874.7" r="4.7" fill="none" stroke="#1a1a1a" stroke-width="1.35"/>
<circle cx="456.9" cy="898.9" r="4.7" fill="none" stroke="#1a1a1a" stroke-width="1.35"/>
<circle cx="478.9" cy="926.6" r="4.7" fill="none" stroke="#1a1a1a" stroke-width="1.35"/>
<circle cx="410.85" cy="838.5" r="1.3" fill="#1a1a1a"/>
<circle cx="415.15" cy="838.5" r="1.3" fill="#1a1a1a"/>
<circle cx="435.15" cy="858.8" r="1.3" fill="#1a1a1a"/>
<circle cx="439.45" cy="858.8" r="1.3" fill="#1a1a1a"/>
<circle cx="452.6" cy="887.4" r="1.3" fill="#1a1a1a"/>
<circle cx="456.9" cy="887.4" r="1.3" fill="#1a1a1a"/>
<circle cx="461.2" cy="887.4" r="1.3" fill="#1a1a1a"/>
<circle cx="478.15" cy="917" r="1.3" fill="#1a1a1a"/>
<circle cx="482.45" cy="917" r="1.3" fill="#1a1a1a"/>
<circle cx="486.75" cy="917" r="1.3" fill="#1a1a1a"/>
<circle cx="491.05" cy="917" r="1.3" fill="#1a1a1a"/>
<rect x="0" y="0" width="520" height="1" fill="#383838"/>
<rect x="0" y="0" width="1" height="1024" fill="#383838"/>
<rect x="518.8" y="0" width="1.2" height="1024" fill="#383838"/>
<rect x="0" y="1022.7" width="520" height="1.3" fill="#383838"/>
</svg></body></html>
